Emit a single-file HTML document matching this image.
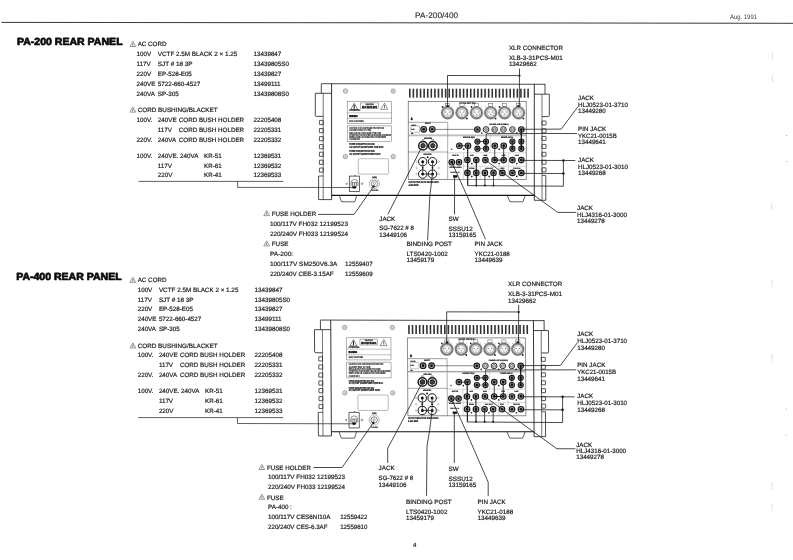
<!DOCTYPE html>
<html lang="en"><head><meta charset="utf-8"><title>PA-200/400 Rear Panel</title>
<style>html,body{margin:0;padding:0;background:#fff;overflow:hidden}svg{display:block}text{white-space:pre;text-rendering:geometricPrecision;stroke:#1c1c1c;stroke-width:0.2px;stroke-linejoin:round}</style>
</head><body>
<svg width="793" height="560" viewBox="0 0 793 560" font-family="'Liberation Sans', sans-serif" font-size="6.25" fill="#1c1c1c" filter="url(#soft)">
<defs><filter id="soft" x="0" y="0" width="100%" height="100%" color-interpolation-filters="sRGB"><feGaussianBlur stdDeviation="0.3"/></filter></defs>
<rect width="793" height="560" fill="#fff"/>
<polyline points="1.5,22.4 400.0,22.8 793.0,23.3" fill="none" stroke="#222" stroke-width="0.9"/>
<text x="415.1" y="17.9" font-size="8.0" textLength="43.0" lengthAdjust="spacingAndGlyphs" style="stroke-width:0.1px">PA-200/400</text>
<text x="730.0" y="18.7" font-size="6.6" textLength="27.0" lengthAdjust="spacingAndGlyphs" fill="#3a3a3a" style="stroke:none">Aug. 1991</text>
<text x="413.0" y="546.9" font-size="6.0">4</text>
<text x="16.9" y="45.1" font-size="10.3" textLength="105.7" lengthAdjust="spacingAndGlyphs" font-weight="bold" fill="#0a0a0a" style="stroke:#0a0a0a;stroke-width:0.7px">PA-200 REAR PANEL</text>
<text x="16.2" y="280.0" font-size="10.3" textLength="105.4" lengthAdjust="spacingAndGlyphs" font-weight="bold" fill="#0a0a0a" style="stroke:#0a0a0a;stroke-width:0.7px">PA-400 REAR PANEL</text>
<g><path d="M130.0,46.5 L135.7,46.5 L132.8,41.4 Z" fill="none" stroke="#444" stroke-width="0.55"/><path d="M132.8,43.3 L132.8,45.7" stroke="#444" stroke-width="0.7"/><text x="137.7" y="46.3">AC CORD</text><text x="136.6" y="55.9">100V</text><text x="157.8" y="55.9" textLength="79.5" lengthAdjust="spacingAndGlyphs">VCTF 2.5M BLACK 2 × 1.25</text><text x="253.5" y="55.9">13439847</text><text x="136.6" y="65.8">117V</text><text x="157.8" y="65.8" textLength="34.6" lengthAdjust="spacingAndGlyphs">SJT # 18 3P</text><text x="253.5" y="65.8">13439805S0</text><text x="136.6" y="75.6">220V</text><text x="157.8" y="75.6">EP-528-E05</text><text x="253.5" y="75.6">13439827</text><text x="136.6" y="85.5">240VE</text><text x="157.8" y="85.5">5722-660-4527</text><text x="253.5" y="85.5">13499111</text><text x="136.6" y="95.5">240VA</text><text x="157.8" y="95.5">SP-305</text><text x="253.5" y="95.5">13439808S0</text><path d="M130.0,112.1 L135.7,112.1 L132.8,107.0 Z" fill="none" stroke="#444" stroke-width="0.55"/><path d="M132.8,108.9 L132.8,111.3" stroke="#444" stroke-width="0.7"/><text x="137.7" y="111.9" textLength="79.9" lengthAdjust="spacingAndGlyphs">CORD BUSHING/BLACKET</text><text x="136.6" y="121.5">100V.</text><text x="157.8" y="121.5">240VE</text><text x="178.8" y="121.5" textLength="65.3" lengthAdjust="spacingAndGlyphs">CORD BUSH HOLDER</text><text x="253.5" y="121.5">22205408</text><text x="157.8" y="131.5">117V</text><text x="178.8" y="131.5" textLength="65.3" lengthAdjust="spacingAndGlyphs">CORD BUSH HOLDER</text><text x="253.5" y="131.5">22205331</text><text x="136.6" y="141.6">220V.</text><text x="157.8" y="141.6">240VA</text><text x="178.8" y="141.6" textLength="65.3" lengthAdjust="spacingAndGlyphs">CORD BUSH HOLDER</text><text x="253.5" y="141.6">22205332</text><text x="136.6" y="157.5">100V.</text><text x="157.8" y="157.5">240VE.</text><text x="180.0" y="157.5">240VA</text><text x="204.0" y="157.5">KR-51</text><text x="253.5" y="157.5">12369531</text><text x="157.8" y="167.6">117V</text><text x="204.0" y="167.6">KR-61</text><text x="253.5" y="167.6">12369532</text><text x="157.8" y="177.4">220V</text><text x="204.0" y="177.4">KR-41</text><text x="253.5" y="177.4">12369533</text></g>
<polyline points="138.5,181.4 283.4,181.4" fill="none" stroke="#1c1c1c" stroke-width="0.7"/>
<polyline points="237.6,181.4 237.6,187.4 353.0,187.5" fill="none" stroke="#1c1c1c" stroke-width="0.7"/>
<g><polyline points="321.3,83.7 545.0,84.3" fill="none" stroke="#1c1c1c" stroke-width="0.8"/><polyline points="331.6,195.4 534.3,195.4" fill="none" stroke="#111" stroke-width="1.2"/><polyline points="331.6,83.9 331.6,199.6" fill="none" stroke="#1c1c1c" stroke-width="0.9"/><polyline points="534.3,83.9 534.3,200.3" fill="none" stroke="#1c1c1c" stroke-width="0.9"/><polyline points="321.3,83.9 321.3,93.3" fill="none" stroke="#1c1c1c" stroke-width="0.8"/><polyline points="315.3,93.3 331.6,93.3" fill="none" stroke="#1c1c1c" stroke-width="0.8"/><path d="M315.3,93.3 V115.2 Q315.3,116.4 316.5,116.4 H323.2" fill="none" stroke="#1c1c1c" stroke-width="0.8"/><polyline points="323.2,93.3 323.2,199.6" fill="none" stroke="#333" stroke-width="0.7"/><polyline points="318.6,199.6 331.6,199.6" fill="none" stroke="#1c1c1c" stroke-width="0.8"/><polyline points="318.6,176.0 318.6,199.6" fill="none" stroke="#1c1c1c" stroke-width="0.8"/><polyline points="318.6,176.0 323.2,176.0" fill="none" stroke="#1c1c1c" stroke-width="0.7"/><rect x="319.4" y="120.4" width="3.8" height="4.2" fill="none" stroke="#222" stroke-width="0.75" rx="0.2"/><rect x="319.4" y="128.5" width="3.8" height="4.2" fill="none" stroke="#222" stroke-width="0.75" rx="0.2"/><rect x="319.4" y="136.6" width="3.8" height="4.2" fill="none" stroke="#222" stroke-width="0.75" rx="0.2"/><rect x="319.4" y="144.6" width="3.8" height="4.2" fill="none" stroke="#222" stroke-width="0.75" rx="0.2"/><rect x="319.4" y="152.2" width="3.8" height="4.2" fill="none" stroke="#222" stroke-width="0.75" rx="0.2"/><rect x="319.4" y="160.2" width="3.8" height="4.2" fill="none" stroke="#222" stroke-width="0.75" rx="0.2"/><rect x="319.4" y="168.0" width="3.8" height="4.2" fill="none" stroke="#222" stroke-width="0.75" rx="0.2"/><polyline points="545.0,83.9 545.0,94.2" fill="none" stroke="#1c1c1c" stroke-width="0.8"/><polyline points="534.3,94.2 549.3,94.2" fill="none" stroke="#1c1c1c" stroke-width="0.8"/><path d="M549.3,94.2 V115.4 Q549.3,116.6 548.4,116.6 H542" fill="none" stroke="#1c1c1c" stroke-width="0.8"/><polyline points="542.0,94.2 542.0,200.3" fill="none" stroke="#333" stroke-width="0.7"/><polyline points="534.3,200.3 545.8,200.3" fill="none" stroke="#1c1c1c" stroke-width="0.8"/><polyline points="545.8,175.4 545.8,200.3" fill="none" stroke="#1c1c1c" stroke-width="0.8"/><polyline points="542.0,175.4 545.8,175.4" fill="none" stroke="#1c1c1c" stroke-width="0.7"/><rect x="542.0" y="121.0" width="4.0" height="4.0" fill="none" stroke="#222" stroke-width="0.75" rx="0.2"/><rect x="542.0" y="128.8" width="4.0" height="4.0" fill="none" stroke="#222" stroke-width="0.75" rx="0.2"/><rect x="542.0" y="136.4" width="4.0" height="4.0" fill="none" stroke="#222" stroke-width="0.75" rx="0.2"/><rect x="542.0" y="144.4" width="4.0" height="4.0" fill="none" stroke="#222" stroke-width="0.75" rx="0.2"/><rect x="542.0" y="152.3" width="4.0" height="4.0" fill="none" stroke="#222" stroke-width="0.75" rx="0.2"/><rect x="542.0" y="160.2" width="4.0" height="4.0" fill="none" stroke="#222" stroke-width="0.75" rx="0.2"/><rect x="542.0" y="167.8" width="4.0" height="4.0" fill="none" stroke="#222" stroke-width="0.75" rx="0.2"/><polyline points="339.3,195.4 341.5,201.8 354.8,201.8 356.7,195.4" fill="none" stroke="#1c1c1c" stroke-width="0.7"/><polyline points="507.1,195.4 510.0,201.8 522.9,201.8 525.4,195.4" fill="none" stroke="#1c1c1c" stroke-width="0.7"/><circle cx="345.5" cy="91.1" r="2.2" fill="none" stroke="#444" stroke-width="0.5"/><circle cx="345.5" cy="91.1" r="0.9" fill="none" stroke="#555" stroke-width="0.4"/><circle cx="393.2" cy="91.1" r="2.2" fill="none" stroke="#444" stroke-width="0.5"/><circle cx="393.2" cy="91.1" r="0.9" fill="none" stroke="#555" stroke-width="0.4"/><circle cx="345.3" cy="156.6" r="2.2" fill="none" stroke="#444" stroke-width="0.5"/><circle cx="345.3" cy="156.6" r="0.9" fill="none" stroke="#555" stroke-width="0.4"/><circle cx="393.2" cy="156.6" r="2.2" fill="none" stroke="#444" stroke-width="0.5"/><circle cx="393.2" cy="156.6" r="0.9" fill="none" stroke="#555" stroke-width="0.4"/><rect x="347.2" y="101.2" width="44.5" height="22.3" fill="none" stroke="#555" stroke-width="0.45"/><polyline points="347.2,112.8 391.7,112.8" fill="none" stroke="#666" stroke-width="0.4"/><polyline points="347.2,118.4 391.7,118.4" fill="none" stroke="#666" stroke-width="0.4"/><path d="M350.6,109.6 L357.8,109.6 L354.2,103.3 Z" fill="none" stroke="#2a2a2a" stroke-width="0.6"/><path d="M354.2,104.8 V108.9" stroke="#111" stroke-width="1.0"/><path d="M380.6,109.3 L387.8,109.3 L384.7,103.1 Z" fill="none" stroke="#444" stroke-width="0.55"/><path d="M384.5,105.0 V108.3" stroke="#333" stroke-width="0.7"/><rect x="360.7" y="102.9" width="17.6" height="5.8" fill="none" stroke="#555" stroke-width="0.45"/><text x="369.5" y="104.9" font-size="2.0" textLength="8.0" lengthAdjust="spacingAndGlyphs" font-weight="bold" fill="#333" text-anchor="middle">CAUTION</text><text x="369.5" y="107.9" font-size="2.9" textLength="15.2" lengthAdjust="spacingAndGlyphs" font-weight="bold" fill="#000" text-anchor="middle" style="stroke-width:0.35px;stroke:#000">RISK OF ELECTRIC SHOCK</text><text x="349.3" y="111.2" font-size="2.3" textLength="11.0" lengthAdjust="spacingAndGlyphs" font-weight="bold" fill="#111">ATTENTION:</text><text x="349.3" y="116.7" font-size="2.8" textLength="8.4" lengthAdjust="spacingAndGlyphs" font-weight="bold" fill="#000" style="stroke-width:0.3px;stroke:#000">WARNING</text><text x="349.3" y="121.9" font-size="2.5" textLength="14.5" lengthAdjust="spacingAndGlyphs" fill="#222">FCC CAUTION</text><rect x="347.2" y="125.9" width="44.5" height="15.6" fill="none" stroke="#555" stroke-width="0.45"/><text x="349.3" y="129.0" font-size="2.9" textLength="34.6" lengthAdjust="spacingAndGlyphs" font-weight="bold" fill="#111" style="stroke-width:0.1px;stroke:#222">CAUTION: FOR CONTINUED PROTECTION</text><text x="349.3" y="131.2" font-size="2.9" textLength="22.0" lengthAdjust="spacingAndGlyphs" font-weight="bold" fill="#111" style="stroke-width:0.1px;stroke:#222">AGAINST RISK OF FIRE,</text><text x="349.3" y="133.5" font-size="2.9" textLength="32.0" lengthAdjust="spacingAndGlyphs" font-weight="bold" fill="#111" style="stroke-width:0.1px;stroke:#222">REPLACE ONLY WITH SAME TYPE FUSE.</text><text x="349.3" y="135.8" font-size="2.9" textLength="41.6" lengthAdjust="spacingAndGlyphs" font-weight="bold" fill="#111" style="stroke-width:0.1px;stroke:#222">ATTENTION: POUR EVITER LES RISQUES D'INCENDIE</text><text x="349.3" y="138.0" font-size="2.9" textLength="36.6" lengthAdjust="spacingAndGlyphs" font-weight="bold" fill="#111" style="stroke-width:0.1px;stroke:#222">REMPLACER LE FUSIBLE PAR UN DE MEME</text><text x="349.3" y="140.2" font-size="2.9" textLength="11.0" lengthAdjust="spacingAndGlyphs" font-weight="bold" fill="#111" style="stroke-width:0.1px;stroke:#222">CALIBRE 250V.</text><text x="349.3" y="145.3" font-size="2.8" textLength="25.5" lengthAdjust="spacingAndGlyphs" font-weight="bold" fill="#222">POWER CONSUMPTION 120V 60Hz</text><text x="349.3" y="147.7" font-size="2.8" textLength="34.5" lengthAdjust="spacingAndGlyphs" font-weight="bold" fill="#222">AC OUTLET UNSWITCHED 100W MAX.</text><text x="349.3" y="152.3" font-size="2.8" textLength="25.5" lengthAdjust="spacingAndGlyphs" font-weight="bold" fill="#222">POWER CONSUMPTION 220V 50Hz</text><text x="349.3" y="154.7" font-size="2.8" textLength="31.0" lengthAdjust="spacingAndGlyphs" font-weight="bold" fill="#222">AC OUTLET UNSWITCHED 100W</text><rect x="358.3" y="158.7" width="30.3" height="15.4" fill="none" stroke="#666" stroke-width="0.45" rx="1.2"/><rect x="349.3" y="176.1" width="10.3" height="15.5" fill="none" stroke="#222" stroke-width="0.7"/><path d="M351.0,186.0 V183.0 A3.5,3.5 0 0 1 358.0,183.0 V186.0" fill="none" stroke="#333" stroke-width="0.55"/><rect x="352.2" y="182.6" width="4.6" height="3.8" fill="#ddd" stroke="#333" stroke-width="0.5"/><polyline points="354.5,182.6 354.5,186.4" fill="none" stroke="#333" stroke-width="0.5"/><path d="M352.4,186.4 h3.8 v1.5 q-1.9,1.4 -3.8,0 z" fill="#0a0a0a"/><circle cx="346.6" cy="183.7" r="0.8" fill="none" stroke="#222" stroke-width="0.45"/><circle cx="362.2" cy="183.6" r="0.9" fill="none" stroke="#222" stroke-width="0.45"/><text x="355.0" y="175.7" font-size="1.8" fill="#222" text-anchor="middle">▲</text><circle cx="374.5" cy="183.6" r="5.1" fill="none" stroke="#777" stroke-width="0.55"/><circle cx="374.5" cy="183.6" r="3.2" fill="none" stroke="#333" stroke-width="0.6"/><circle cx="374.5" cy="183.4" r="1.1" fill="none" stroke="#444" stroke-width="0.45"/><text x="374.6" y="177.6" font-size="2.2" textLength="4.6" lengthAdjust="spacingAndGlyphs" font-weight="bold" fill="#111" text-anchor="middle">FUSE</text><text x="374.8" y="191.3" font-size="1.9" textLength="7.0" lengthAdjust="spacingAndGlyphs" font-weight="bold" fill="#444" text-anchor="middle">T6.3A 250V</text><rect x="409.00" y="88.7" width="1.6" height="9.0" fill="#333"/><rect x="412.58" y="88.7" width="1.6" height="9.0" fill="#333"/><rect x="416.17" y="88.7" width="1.6" height="9.0" fill="#333"/><rect x="419.75" y="88.7" width="1.6" height="9.0" fill="#333"/><rect x="423.34" y="88.7" width="1.6" height="9.0" fill="#333"/><rect x="426.93" y="88.7" width="1.6" height="9.0" fill="#333"/><rect x="430.51" y="88.7" width="1.6" height="9.0" fill="#333"/><rect x="434.10" y="88.7" width="1.6" height="9.0" fill="#333"/><rect x="437.68" y="88.7" width="1.6" height="9.0" fill="#333"/><rect x="441.26" y="88.7" width="1.6" height="9.0" fill="#333"/><rect x="444.85" y="88.7" width="1.6" height="9.0" fill="#333"/><rect x="448.44" y="88.7" width="1.6" height="9.0" fill="#333"/><rect x="452.02" y="88.7" width="1.6" height="9.0" fill="#333"/><rect x="455.61" y="88.7" width="1.6" height="9.0" fill="#333"/><rect x="459.19" y="88.7" width="1.6" height="9.0" fill="#333"/><rect x="462.77" y="88.7" width="1.6" height="9.0" fill="#333"/><rect x="466.36" y="88.7" width="1.6" height="9.0" fill="#333"/><rect x="469.94" y="88.7" width="1.6" height="9.0" fill="#333"/><rect x="473.53" y="88.7" width="1.6" height="9.0" fill="#333"/><rect x="477.12" y="88.7" width="1.6" height="9.0" fill="#333"/><rect x="480.70" y="88.7" width="1.6" height="9.0" fill="#333"/><rect x="484.28" y="88.7" width="1.6" height="9.0" fill="#333"/><rect x="487.87" y="88.7" width="1.6" height="9.0" fill="#333"/><rect x="491.45" y="88.7" width="1.6" height="9.0" fill="#333"/><rect x="495.04" y="88.7" width="1.6" height="9.0" fill="#333"/><rect x="498.62" y="88.7" width="1.6" height="9.0" fill="#333"/><rect x="502.21" y="88.7" width="1.6" height="9.0" fill="#333"/><rect x="505.80" y="88.7" width="1.6" height="9.0" fill="#333"/><rect x="509.38" y="88.7" width="1.6" height="9.0" fill="#333"/><rect x="512.97" y="88.7" width="1.6" height="9.0" fill="#333"/><rect x="516.55" y="88.7" width="1.6" height="9.0" fill="#333"/><rect x="520.13" y="88.7" width="1.6" height="9.0" fill="#333"/><rect x="523.72" y="88.7" width="1.6" height="9.0" fill="#333"/><rect x="527.30" y="88.7" width="1.6" height="9.0" fill="#333"/><rect x="408.2" y="101.5" width="118.0" height="77.9" fill="none" stroke="#444" stroke-width="0.6"/><polyline points="408.2,122.3 447.7,122.3" fill="none" stroke="#444" stroke-width="0.5"/><polyline points="447.7,122.3 447.7,179.4" fill="none" stroke="#555" stroke-width="0.5"/><polyline points="408.2,135.1 526.2,135.1" fill="none" stroke="#999" stroke-width="0.9"/><polyline points="408.2,136.0 526.2,136.0" fill="none" stroke="#999" stroke-width="0.4"/><polyline points="408.2,152.0 447.7,152.0" fill="none" stroke="#555" stroke-width="0.5"/><polyline points="447.7,152.8 526.2,152.8" fill="none" stroke="#999" stroke-width="0.4"/><polyline points="447.7,166.2 526.2,166.2" fill="none" stroke="#999" stroke-width="0.4"/><polyline points="463.5,152.8 463.5,179.4" fill="none" stroke="#999" stroke-width="0.4"/><polyline points="490.2,134.9 490.2,152.8" fill="none" stroke="#999" stroke-width="0.4"/><polyline points="480.3,166.2 480.3,179.4" fill="none" stroke="#999" stroke-width="0.4"/><polyline points="499.0,166.2 499.0,179.4" fill="none" stroke="#999" stroke-width="0.4"/><polyline points="508.4,152.8 508.4,179.4" fill="none" stroke="#999" stroke-width="0.4"/><text x="467.6" y="103.9" font-size="2.3" textLength="16.8" lengthAdjust="spacingAndGlyphs" font-weight="bold" fill="#111" text-anchor="middle">CHANNEL INPUT (BAL)</text><rect x="445.5" y="103.4" width="4.2" height="3.2" fill="#fff" stroke="#444" stroke-width="0.45"/><circle cx="447.6" cy="112.8" r="5.45" fill="#fff" stroke="#808080" stroke-width="1.9"/><circle cx="447.6" cy="112.8" r="6.4" fill="none" stroke="#444" stroke-width="0.35"/><circle cx="447.6" cy="112.8" r="3.7" fill="#fafafa" stroke="#666" stroke-width="0.45"/><rect x="445.35" y="111.55" width="1.1" height="1.1" fill="#777"/><rect x="448.75" y="111.55" width="1.1" height="1.1" fill="#777"/><rect x="447.05" y="113.85" width="1.1" height="1.1" fill="#777"/><circle cx="442.6" cy="107.0" r="0.9" fill="#222"/><circle cx="452.6" cy="106.6" r="0.4" fill="#555"/><rect x="459.9" y="103.4" width="4.2" height="3.2" fill="#fff" stroke="#444" stroke-width="0.45"/><circle cx="462.0" cy="112.8" r="5.45" fill="#fff" stroke="#808080" stroke-width="1.9"/><circle cx="462.0" cy="112.8" r="6.4" fill="none" stroke="#444" stroke-width="0.35"/><circle cx="462.0" cy="112.8" r="3.7" fill="#fafafa" stroke="#666" stroke-width="0.45"/><rect x="459.75" y="111.55" width="1.1" height="1.1" fill="#777"/><rect x="463.15" y="111.55" width="1.1" height="1.1" fill="#777"/><rect x="461.45" y="113.85" width="1.1" height="1.1" fill="#777"/><circle cx="457.0" cy="107.0" r="0.45" fill="#555"/><circle cx="466.9" cy="118.6" r="0.95" fill="#222"/><circle cx="467.0" cy="106.6" r="0.4" fill="#555"/><rect x="474.4" y="103.4" width="4.2" height="3.2" fill="#fff" stroke="#444" stroke-width="0.45"/><circle cx="476.5" cy="112.8" r="5.45" fill="#fff" stroke="#808080" stroke-width="1.9"/><circle cx="476.5" cy="112.8" r="6.4" fill="none" stroke="#444" stroke-width="0.35"/><circle cx="476.5" cy="112.8" r="3.7" fill="#fafafa" stroke="#666" stroke-width="0.45"/><rect x="474.25" y="111.55" width="1.1" height="1.1" fill="#777"/><rect x="477.65" y="111.55" width="1.1" height="1.1" fill="#777"/><rect x="475.95" y="113.85" width="1.1" height="1.1" fill="#777"/><circle cx="471.5" cy="107.0" r="0.9" fill="#222"/><circle cx="481.5" cy="106.6" r="0.4" fill="#555"/><rect x="488.6" y="103.4" width="4.2" height="3.2" fill="#fff" stroke="#444" stroke-width="0.45"/><circle cx="490.7" cy="112.8" r="5.45" fill="#fff" stroke="#808080" stroke-width="1.9"/><circle cx="490.7" cy="112.8" r="6.4" fill="none" stroke="#444" stroke-width="0.35"/><circle cx="490.7" cy="112.8" r="3.7" fill="#fafafa" stroke="#666" stroke-width="0.45"/><rect x="488.45" y="111.55" width="1.1" height="1.1" fill="#777"/><rect x="491.85" y="111.55" width="1.1" height="1.1" fill="#777"/><rect x="490.15" y="113.85" width="1.1" height="1.1" fill="#777"/><circle cx="485.7" cy="107.0" r="0.45" fill="#555"/><circle cx="495.6" cy="118.6" r="0.95" fill="#222"/><circle cx="495.7" cy="106.6" r="0.4" fill="#555"/><rect x="502.5" y="103.4" width="4.2" height="3.2" fill="#fff" stroke="#444" stroke-width="0.45"/><circle cx="504.6" cy="112.8" r="5.45" fill="#fff" stroke="#808080" stroke-width="1.9"/><circle cx="504.6" cy="112.8" r="6.4" fill="none" stroke="#444" stroke-width="0.35"/><circle cx="504.6" cy="112.8" r="3.7" fill="#fafafa" stroke="#666" stroke-width="0.45"/><rect x="502.35" y="111.55" width="1.1" height="1.1" fill="#777"/><rect x="505.75" y="111.55" width="1.1" height="1.1" fill="#777"/><rect x="504.05" y="113.85" width="1.1" height="1.1" fill="#777"/><circle cx="499.6" cy="107.0" r="0.9" fill="#222"/><circle cx="509.6" cy="106.6" r="0.4" fill="#555"/><rect x="516.4" y="103.4" width="4.2" height="3.2" fill="#fff" stroke="#444" stroke-width="0.45"/><circle cx="518.5" cy="112.8" r="5.45" fill="#fff" stroke="#808080" stroke-width="1.9"/><circle cx="518.5" cy="112.8" r="6.4" fill="none" stroke="#444" stroke-width="0.35"/><circle cx="518.5" cy="112.8" r="3.7" fill="#fafafa" stroke="#666" stroke-width="0.45"/><rect x="516.25" y="111.55" width="1.1" height="1.1" fill="#777"/><rect x="519.65" y="111.55" width="1.1" height="1.1" fill="#777"/><rect x="517.95" y="113.85" width="1.1" height="1.1" fill="#777"/><circle cx="513.5" cy="107.0" r="0.45" fill="#555"/><circle cx="523.4" cy="118.6" r="0.95" fill="#222"/><circle cx="523.5" cy="106.6" r="0.4" fill="#555"/><rect x="446.8" y="105.2" width="2.0" height="1.6" fill="#111" stroke="#111" stroke-width="0.3"/><rect x="517.6" y="105.2" width="2.0" height="1.6" fill="#111" stroke="#111" stroke-width="0.3"/><text x="410.4" y="120.2" font-size="3.6" font-weight="bold" fill="#222">⏚</text><text x="427.8" y="124.4" font-size="1.9" font-weight="bold" fill="#222" text-anchor="middle">INPUT</text><rect x="410.7" y="126.0" width="8.8" height="6.4" fill="none" stroke="#666" stroke-width="0.4" rx="0.6"/><text x="410.9" y="125.6" font-size="1.8" fill="#444">LEVEL</text><text x="411.2" y="130.0" font-size="1.8" fill="#444">0dB</text><text x="410.9" y="134.2" font-size="1.8" fill="#444">dB</text><circle cx="423.7" cy="129.3" r="2.8499999999999996" fill="#b0b0b0" stroke="#1a1a1a" stroke-width="1.15"/><circle cx="423.7" cy="129.3" r="1.35" fill="#111" stroke="#111" stroke-width="0.1"/><circle cx="432.2" cy="129.3" r="2.8499999999999996" fill="#b0b0b0" stroke="#1a1a1a" stroke-width="1.15"/><circle cx="432.2" cy="129.3" r="1.35" fill="#111" stroke="#111" stroke-width="0.1"/><text x="428.0" y="138.6" font-size="1.9" textLength="8.0" lengthAdjust="spacingAndGlyphs" font-weight="bold" fill="#222" text-anchor="middle">SPEAKERS</text><circle cx="423.0" cy="145.7" r="4.3" fill="#fff" stroke="#1a1a1a" stroke-width="1.5"/><circle cx="423.0" cy="145.7" r="2.2" fill="#444" stroke="#222" stroke-width="1.0"/><polyline points="421.6,139.8 424.4,139.8" fill="none" stroke="#222" stroke-width="0.6"/><circle cx="432.8" cy="145.7" r="4.3" fill="#fff" stroke="#1a1a1a" stroke-width="1.5"/><circle cx="432.8" cy="145.7" r="2.2" fill="#444" stroke="#222" stroke-width="1.0"/><polyline points="431.4,139.8 434.2,139.8" fill="none" stroke="#222" stroke-width="0.6"/><text x="427.6" y="154.6" font-size="1.9" textLength="8.0" lengthAdjust="spacingAndGlyphs" font-weight="bold" fill="#222" text-anchor="middle">SPEAKERS</text><circle cx="422.7" cy="161.7" r="4.2" fill="#fff" stroke="#1a1a1a" stroke-width="1.0"/><circle cx="422.7" cy="161.7" r="1.5" fill="#111"/><circle cx="422.7" cy="174.1" r="4.2" fill="#fff" stroke="#1a1a1a" stroke-width="1.0"/><circle cx="422.7" cy="174.1" r="1.5" fill="#111"/><polyline points="422.7,161.7 422.7,174.1" fill="none" stroke="#222" stroke-width="0.7"/><circle cx="422.7" cy="167.8" r="0.9" fill="#111"/><circle cx="432.5" cy="161.7" r="4.2" fill="#fff" stroke="#1a1a1a" stroke-width="1.0"/><circle cx="432.5" cy="161.7" r="1.5" fill="#111"/><circle cx="432.5" cy="174.1" r="4.2" fill="#fff" stroke="#1a1a1a" stroke-width="1.0"/><circle cx="432.5" cy="174.1" r="1.5" fill="#111"/><polyline points="432.5,161.7 432.5,174.1" fill="none" stroke="#222" stroke-width="0.7"/><circle cx="432.5" cy="167.8" r="0.9" fill="#111"/><polyline points="422.7,174.1 432.5,174.1" fill="none" stroke="#222" stroke-width="0.8"/><circle cx="427.6" cy="157.2" r="1.0" fill="#222"/><circle cx="416.6" cy="161.7" r="0.8" fill="none" stroke="#666" stroke-width="0.35"/><circle cx="416.6" cy="168.0" r="0.8" fill="none" stroke="#666" stroke-width="0.35"/><circle cx="416.6" cy="174.1" r="0.8" fill="none" stroke="#666" stroke-width="0.35"/><circle cx="438.6" cy="161.7" r="0.8" fill="none" stroke="#666" stroke-width="0.35"/><circle cx="438.6" cy="168.0" r="0.8" fill="none" stroke="#666" stroke-width="0.35"/><circle cx="438.6" cy="174.1" r="0.8" fill="none" stroke="#666" stroke-width="0.35"/><text x="408.4" y="183.1" font-size="2.6" textLength="30.4" lengthAdjust="spacingAndGlyphs" font-weight="bold" fill="#222">OUTPUT/SPEAKER IMPEDANCE</text><text x="408.4" y="185.6" font-size="2.6" textLength="10.0" lengthAdjust="spacingAndGlyphs" font-weight="bold" fill="#222">4-8Ω MIN</text><text x="455.4" y="155.8" font-size="1.9" font-weight="bold" fill="#222" text-anchor="middle">AUX IN</text><circle cx="451.8" cy="162.2" r="2.75" fill="#b0b0b0" stroke="#1a1a1a" stroke-width="1.15"/><circle cx="451.8" cy="162.2" r="1.35" fill="#111" stroke="#111" stroke-width="0.1"/><circle cx="459.0" cy="162.2" r="2.75" fill="#b0b0b0" stroke="#1a1a1a" stroke-width="1.15"/><circle cx="459.0" cy="162.2" r="1.35" fill="#111" stroke="#111" stroke-width="0.1"/><text x="455.4" y="167.9" font-size="1.8" textLength="12.0" lengthAdjust="spacingAndGlyphs" font-weight="bold" fill="#222" text-anchor="middle">STEREO  MONO</text><text x="455.0" y="172.6" font-size="1.7" textLength="9.0" lengthAdjust="spacingAndGlyphs" fill="#555" text-anchor="middle">PHANTOM  ON</text><rect x="453.2" y="175.3" width="4.0" height="2.1" fill="#111" stroke="#111" stroke-width="0.3"/><circle cx="451.5" cy="149.2" r="0.8" fill="#444"/><text x="499.0" y="124.6" font-size="1.9" textLength="19.0" lengthAdjust="spacingAndGlyphs" font-weight="bold" fill="#222" text-anchor="middle">CHANNEL LINE IN (UNBAL)</text><circle cx="477.4" cy="129.5" r="2.75" fill="#b0b0b0" stroke="#1a1a1a" stroke-width="1.15"/><circle cx="477.4" cy="129.5" r="1.35" fill="#111" stroke="#111" stroke-width="0.1"/><circle cx="486.0" cy="129.5" r="2.85" fill="#fff" stroke="#222" stroke-width="0.95"/><circle cx="486.0" cy="129.5" r="1.5000000000000002" fill="#ececec" stroke="#444" stroke-width="0.55"/><polyline points="482.8,129.5 489.2,129.5" fill="none" stroke="#666" stroke-width="0.5"/><circle cx="494.7" cy="129.5" r="2.85" fill="#fff" stroke="#222" stroke-width="0.95"/><circle cx="494.7" cy="129.5" r="1.5000000000000002" fill="#ececec" stroke="#444" stroke-width="0.55"/><polyline points="491.5,129.5 497.9,129.5" fill="none" stroke="#666" stroke-width="0.5"/><circle cx="503.4" cy="129.5" r="2.85" fill="#fff" stroke="#222" stroke-width="0.95"/><circle cx="503.4" cy="129.5" r="1.5000000000000002" fill="#ececec" stroke="#444" stroke-width="0.55"/><polyline points="500.2,129.5 506.6,129.5" fill="none" stroke="#666" stroke-width="0.5"/><circle cx="512.4" cy="129.5" r="2.85" fill="#fff" stroke="#222" stroke-width="0.95"/><circle cx="512.4" cy="129.5" r="1.5000000000000002" fill="#ececec" stroke="#444" stroke-width="0.55"/><polyline points="509.2,129.5 515.6,129.5" fill="none" stroke="#666" stroke-width="0.5"/><circle cx="521.3" cy="129.5" r="2.75" fill="#b0b0b0" stroke="#1a1a1a" stroke-width="1.15"/><circle cx="521.3" cy="129.5" r="1.35" fill="#111" stroke="#111" stroke-width="0.1"/><circle cx="481.8" cy="133.0" r="0.85" fill="#222"/><circle cx="499.2" cy="133.0" r="0.85" fill="#222"/><circle cx="516.8" cy="133.0" r="0.85" fill="#222"/><text x="469.0" y="137.8" font-size="1.9" textLength="12.0" lengthAdjust="spacingAndGlyphs" font-weight="bold" fill="#222" text-anchor="middle">GRAPHIC EQ IN</text><text x="507.0" y="137.8" font-size="1.9" textLength="12.0" lengthAdjust="spacingAndGlyphs" font-weight="bold" fill="#222" text-anchor="middle">POWER AMP IN</text><circle cx="477.4" cy="141.5" r="2.55" fill="#b0b0b0" stroke="#1a1a1a" stroke-width="1.15"/><circle cx="477.4" cy="141.5" r="1.35" fill="#111" stroke="#111" stroke-width="0.1"/><circle cx="477.4" cy="148.7" r="2.55" fill="#b0b0b0" stroke="#1a1a1a" stroke-width="1.15"/><circle cx="477.4" cy="148.7" r="1.35" fill="#111" stroke="#111" stroke-width="0.1"/><circle cx="486.0" cy="141.5" r="2.55" fill="#b0b0b0" stroke="#1a1a1a" stroke-width="1.15"/><circle cx="486.0" cy="141.5" r="1.35" fill="#111" stroke="#111" stroke-width="0.1"/><circle cx="486.0" cy="148.7" r="2.55" fill="#b0b0b0" stroke="#1a1a1a" stroke-width="1.15"/><circle cx="486.0" cy="148.7" r="1.35" fill="#111" stroke="#111" stroke-width="0.1"/><circle cx="512.4" cy="141.5" r="2.55" fill="#b0b0b0" stroke="#1a1a1a" stroke-width="1.15"/><circle cx="512.4" cy="141.5" r="1.35" fill="#111" stroke="#111" stroke-width="0.1"/><circle cx="512.4" cy="148.7" r="2.55" fill="#b0b0b0" stroke="#1a1a1a" stroke-width="1.15"/><circle cx="512.4" cy="148.7" r="1.35" fill="#111" stroke="#111" stroke-width="0.1"/><circle cx="521.3" cy="141.5" r="2.55" fill="#b0b0b0" stroke="#1a1a1a" stroke-width="1.15"/><circle cx="521.3" cy="141.5" r="1.35" fill="#111" stroke="#111" stroke-width="0.1"/><circle cx="521.3" cy="148.7" r="2.55" fill="#b0b0b0" stroke="#1a1a1a" stroke-width="1.15"/><circle cx="521.3" cy="148.7" r="1.35" fill="#111" stroke="#111" stroke-width="0.1"/><polyline points="477.4,141.5 486.0,141.5" fill="none" stroke="#222" stroke-width="0.8"/><polyline points="477.4,148.7 486.0,148.7" fill="none" stroke="#333" stroke-width="0.6"/><polyline points="512.4,141.5 512.4,148.7" fill="none" stroke="#222" stroke-width="0.8"/><polyline points="521.3,129.5 521.3,148.7" fill="none" stroke="#111" stroke-width="1.2"/><circle cx="521.3" cy="134.0" r="0.9" fill="#111"/><polyline points="486.2,133.8 486.2,141.5" fill="none" stroke="#222" stroke-width="0.8"/><circle cx="459.4" cy="145.7" r="2.75" fill="#b0b0b0" stroke="#1a1a1a" stroke-width="1.15"/><circle cx="459.4" cy="145.7" r="1.35" fill="#111" stroke="#111" stroke-width="0.1"/><circle cx="468.0" cy="145.7" r="2.75" fill="#b0b0b0" stroke="#1a1a1a" stroke-width="1.15"/><circle cx="468.0" cy="145.7" r="1.35" fill="#111" stroke="#111" stroke-width="0.1"/><circle cx="494.8" cy="145.7" r="2.75" fill="#b0b0b0" stroke="#1a1a1a" stroke-width="1.15"/><circle cx="494.8" cy="145.7" r="1.35" fill="#111" stroke="#111" stroke-width="0.1"/><circle cx="503.7" cy="145.7" r="2.75" fill="#b0b0b0" stroke="#1a1a1a" stroke-width="1.15"/><circle cx="503.7" cy="145.7" r="1.35" fill="#111" stroke="#111" stroke-width="0.1"/><polyline points="459.4,145.7 468.0,145.7" fill="none" stroke="#222" stroke-width="0.8"/><circle cx="463.8" cy="149.2" r="0.85" fill="#222"/><circle cx="499.2" cy="149.2" r="0.85" fill="#222"/><circle cx="467.4" cy="160.1" r="2.75" fill="#b0b0b0" stroke="#1a1a1a" stroke-width="1.15"/><circle cx="467.4" cy="160.1" r="1.35" fill="#111" stroke="#111" stroke-width="0.1"/><circle cx="476.3" cy="160.1" r="2.75" fill="#b0b0b0" stroke="#1a1a1a" stroke-width="1.15"/><circle cx="476.3" cy="160.1" r="1.35" fill="#111" stroke="#111" stroke-width="0.1"/><circle cx="485.4" cy="160.1" r="2.75" fill="#b0b0b0" stroke="#1a1a1a" stroke-width="1.15"/><circle cx="485.4" cy="160.1" r="1.35" fill="#111" stroke="#111" stroke-width="0.1"/><circle cx="494.6" cy="160.1" r="2.75" fill="#b0b0b0" stroke="#1a1a1a" stroke-width="1.15"/><circle cx="494.6" cy="160.1" r="1.35" fill="#111" stroke="#111" stroke-width="0.1"/><circle cx="503.7" cy="160.1" r="2.75" fill="#b0b0b0" stroke="#1a1a1a" stroke-width="1.15"/><circle cx="503.7" cy="160.1" r="1.35" fill="#111" stroke="#111" stroke-width="0.1"/><circle cx="512.4" cy="160.1" r="2.75" fill="#b0b0b0" stroke="#1a1a1a" stroke-width="1.15"/><circle cx="512.4" cy="160.1" r="1.35" fill="#111" stroke="#111" stroke-width="0.1"/><circle cx="521.3" cy="160.1" r="2.75" fill="#b0b0b0" stroke="#1a1a1a" stroke-width="1.15"/><circle cx="521.3" cy="160.1" r="1.35" fill="#111" stroke="#111" stroke-width="0.1"/><circle cx="471.8" cy="163.6" r="0.85" fill="#222"/><circle cx="499.2" cy="163.6" r="0.85" fill="#222"/><circle cx="516.8" cy="163.6" r="0.85" fill="#222"/><circle cx="467.4" cy="172.9" r="2.75" fill="#b0b0b0" stroke="#1a1a1a" stroke-width="1.15"/><circle cx="467.4" cy="172.9" r="1.35" fill="#111" stroke="#111" stroke-width="0.1"/><circle cx="476.3" cy="172.9" r="2.75" fill="#b0b0b0" stroke="#1a1a1a" stroke-width="1.15"/><circle cx="476.3" cy="172.9" r="1.35" fill="#111" stroke="#111" stroke-width="0.1"/><circle cx="484.9" cy="172.9" r="2.75" fill="#b0b0b0" stroke="#1a1a1a" stroke-width="1.15"/><circle cx="484.9" cy="172.9" r="1.35" fill="#111" stroke="#111" stroke-width="0.1"/><circle cx="493.5" cy="172.9" r="2.75" fill="#b0b0b0" stroke="#1a1a1a" stroke-width="1.15"/><circle cx="493.5" cy="172.9" r="1.35" fill="#111" stroke="#111" stroke-width="0.1"/><circle cx="502.4" cy="172.9" r="2.75" fill="#b0b0b0" stroke="#1a1a1a" stroke-width="1.15"/><circle cx="502.4" cy="172.9" r="1.35" fill="#111" stroke="#111" stroke-width="0.1"/><circle cx="512.4" cy="172.9" r="2.75" fill="#b0b0b0" stroke="#1a1a1a" stroke-width="1.15"/><circle cx="512.4" cy="172.9" r="1.35" fill="#111" stroke="#111" stroke-width="0.1"/><circle cx="521.3" cy="172.9" r="2.75" fill="#b0b0b0" stroke="#1a1a1a" stroke-width="1.15"/><circle cx="521.3" cy="172.9" r="1.35" fill="#111" stroke="#111" stroke-width="0.1"/><circle cx="471.8" cy="176.4" r="0.85" fill="#222"/><circle cx="489.2" cy="176.4" r="0.85" fill="#222"/><circle cx="516.8" cy="176.4" r="0.85" fill="#222"/><text x="471.8" y="168.6" font-size="1.8" font-weight="bold" fill="#333" text-anchor="middle">SEND</text><text x="489.2" y="168.6" font-size="1.8" font-weight="bold" fill="#333" text-anchor="middle">AUX OUT</text><text x="502.4" y="168.6" font-size="1.8" font-weight="bold" fill="#333" text-anchor="middle">REC</text><text x="516.8" y="168.6" font-size="1.8" font-weight="bold" fill="#333" text-anchor="middle">TAPE IN</text><text x="471.8" y="155.6" font-size="1.8" font-weight="bold" fill="#333" text-anchor="middle">AUX</text><text x="485.4" y="155.6" font-size="1.8" font-weight="bold" fill="#333" text-anchor="middle">SUB</text><text x="503.7" y="155.6" font-size="1.8" font-weight="bold" fill="#333" text-anchor="middle">PRE</text><text x="516.8" y="155.6" font-size="1.8" font-weight="bold" fill="#333" text-anchor="middle">LINE</text><polyline points="467.7,145.7 467.7,185.5" fill="none" stroke="#111" stroke-width="1.1"/><polyline points="476.3,160.1 476.3,185.5" fill="none" stroke="#111" stroke-width="1.0"/><polyline points="503.7,145.7 503.7,160.1" fill="none" stroke="#222" stroke-width="0.9"/><polyline points="494.8,145.7 494.7,160.1" fill="none" stroke="#222" stroke-width="0.8"/><polyline points="494.6,160.1 503.7,160.1" fill="none" stroke="#111" stroke-width="1.0"/><polyline points="486.0,141.5 486.0,148.7" fill="none" stroke="#111" stroke-width="1.0"/><polyline points="484.9,172.9 484.9,185.5" fill="none" stroke="#222" stroke-width="0.8"/><polyline points="493.5,172.9 493.5,185.5" fill="none" stroke="#222" stroke-width="0.8"/><circle cx="476.3" cy="185.5" r="1.0" fill="#111"/><circle cx="484.9" cy="185.5" r="1.0" fill="#111"/><circle cx="493.5" cy="185.5" r="1.0" fill="#111"/></g>
<g><text x="508.9" y="49.5" textLength="54.1" lengthAdjust="spacingAndGlyphs">XLR CONNECTOR</text><text x="508.9" y="59.7" textLength="53.8" lengthAdjust="spacingAndGlyphs">XLB-3-31PCS-M01</text><text x="508.9" y="66.4" textLength="27.8" lengthAdjust="spacingAndGlyphs">13429662</text><polyline points="519.5,68.5 519.3,105.4" fill="none" stroke="#1c1c1c" stroke-width="0.8"/><polyline points="447.5,105.6 447.5,75.5 519.5,75.6" fill="none" stroke="#1c1c1c" stroke-width="0.8"/><circle cx="519.5" cy="75.7" r="1.1" fill="#1c1c1c"/><text x="578.0" y="99.5">JACK</text><text x="578.0" y="106.9" textLength="49.9" lengthAdjust="spacingAndGlyphs">HLJ0523-01-3710</text><text x="578.0" y="113.3" textLength="27.8" lengthAdjust="spacingAndGlyphs">13449280</text><polyline points="435.6,129.4 474.0,129.4" fill="none" stroke="#333" stroke-width="0.6"/><polyline points="521.3,129.3 561.2,129.1 578.0,106.6" fill="none" stroke="#1c1c1c" stroke-width="0.8"/><text x="578.0" y="130.5">PIN JACK</text><text x="578.0" y="138.0" textLength="38.8" lengthAdjust="spacingAndGlyphs">YKC21-0015B</text><text x="578.0" y="144.4" textLength="27.8" lengthAdjust="spacingAndGlyphs">13449641</text><polyline points="486.2,133.6 577.0,133.5" fill="none" stroke="#1c1c1c" stroke-width="0.8"/><text x="578.0" y="161.9">JACK</text><text x="578.0" y="169.1" textLength="49.9" lengthAdjust="spacingAndGlyphs">HLJ0523-01-3010</text><text x="578.0" y="175.3" textLength="27.8" lengthAdjust="spacingAndGlyphs">13449268</text><polyline points="521.3,160.4 575.3,160.5" fill="none" stroke="#1c1c1c" stroke-width="0.8"/><polyline points="521.3,173.4 563.4,173.5" fill="none" stroke="#1c1c1c" stroke-width="0.8"/><polyline points="563.4,160.5 563.4,186.2 467.7,185.6" fill="none" stroke="#1c1c1c" stroke-width="0.8"/><circle cx="563.4" cy="160.5" r="1.25" fill="#1c1c1c"/><circle cx="563.4" cy="173.5" r="1.25" fill="#1c1c1c"/><text x="577.0" y="210.4">JACK</text><text x="577.0" y="216.9" textLength="49.9" lengthAdjust="spacingAndGlyphs">HLJ4316-01-3000</text><text x="577.0" y="223.0" textLength="27.8" lengthAdjust="spacingAndGlyphs">13449278</text><polyline points="485.5,160.2 557.7,212.4 576.2,212.4" fill="none" stroke="#1c1c1c" stroke-width="0.8"/><text x="379.3" y="220.8">JACK</text><text x="379.3" y="230.3" textLength="34.5" lengthAdjust="spacingAndGlyphs">SG-7622 # 8</text><text x="379.3" y="237.4" textLength="27.8" lengthAdjust="spacingAndGlyphs">13449106</text><polyline points="422.0,146.5 387.9,214.3" fill="none" stroke="#1c1c1c" stroke-width="0.8"/><text x="406.5" y="246.3" textLength="45.4" lengthAdjust="spacingAndGlyphs">BINDING POST</text><text x="406.5" y="255.8" textLength="41.3" lengthAdjust="spacingAndGlyphs">LTS0420-1002</text><text x="406.5" y="262.4" textLength="27.8" lengthAdjust="spacingAndGlyphs">13459179</text><polyline points="432.5,174.1 429.9,195.0 427.6,240.4" fill="none" stroke="#1c1c1c" stroke-width="0.8"/><text x="448.5" y="220.8">SW</text><text x="448.5" y="230.6" textLength="24.3" lengthAdjust="spacingAndGlyphs">SSSU12</text><text x="448.5" y="237.4" textLength="27.8" lengthAdjust="spacingAndGlyphs">13159165</text><polyline points="454.6,176.4 454.5,214.3" fill="none" stroke="#1c1c1c" stroke-width="0.8"/><text x="474.6" y="246.3">PIN JACK</text><text x="474.6" y="255.8" textLength="35.2" lengthAdjust="spacingAndGlyphs">YKC21-0188</text><text x="474.6" y="262.4" textLength="27.8" lengthAdjust="spacingAndGlyphs">13449639</text><polyline points="451.7,162.1 466.7,195.0 485.5,239.3" fill="none" stroke="#1c1c1c" stroke-width="0.8"/><path d="M263.8,215.6 L269.5,215.6 L266.7,210.5 Z" fill="none" stroke="#444" stroke-width="0.55"/><path d="M266.7,212.4 L266.7,214.8" stroke="#444" stroke-width="0.7"/><text x="271.8" y="215.5" textLength="44.4" lengthAdjust="spacingAndGlyphs">FUSE HOLDER</text><polyline points="318.1,214.4 354.0,214.4 373.6,186.4" fill="none" stroke="#1c1c1c" stroke-width="0.8"/><circle cx="373.6" cy="186.4" r="1.2" fill="#1c1c1c"/><text x="269.9" y="225.5" textLength="78.1" lengthAdjust="spacingAndGlyphs">100/117V FH032 12199523</text><text x="269.9" y="235.6" textLength="78.1" lengthAdjust="spacingAndGlyphs">220/240V FH033 12199524</text><path d="M263.8,245.9 L269.5,245.9 L266.7,240.8 Z" fill="none" stroke="#444" stroke-width="0.55"/><path d="M266.7,242.7 L266.7,245.1" stroke="#444" stroke-width="0.7"/><text x="271.8" y="245.8">FUSE</text><text x="269.9" y="255.8" textLength="23.3" lengthAdjust="spacingAndGlyphs">PA-200:</text><text x="269.9" y="265.8" textLength="67.5" lengthAdjust="spacingAndGlyphs">100/117V SM250V6.3A</text><text x="345.1" y="265.8" textLength="27.6" lengthAdjust="spacingAndGlyphs">12559407</text><text x="269.9" y="275.8" textLength="63.8" lengthAdjust="spacingAndGlyphs">220/240V CEE-3.15AF</text><text x="345.1" y="275.8" textLength="27.6" lengthAdjust="spacingAndGlyphs">12559609</text></g>
<g transform="translate(1.1,235.9)"><path d="M128.9,46.5 L134.6,46.5 L131.8,41.4 Z" fill="none" stroke="#444" stroke-width="0.55"/><path d="M131.8,43.3 L131.8,45.7" stroke="#444" stroke-width="0.7"/><text x="136.6" y="46.3">AC CORD</text><text x="136.6" y="55.9">100V</text><text x="157.8" y="55.9" textLength="79.5" lengthAdjust="spacingAndGlyphs">VCTF 2.5M BLACK 2 × 1.25</text><text x="253.5" y="55.9">13439847</text><text x="136.6" y="65.8">117V</text><text x="157.8" y="65.8" textLength="34.6" lengthAdjust="spacingAndGlyphs">SJT # 18 3P</text><text x="253.5" y="65.8">13439805S0</text><text x="136.6" y="75.6">220V</text><text x="157.8" y="75.6">EP-528-E05</text><text x="253.5" y="75.6">13439827</text><text x="136.6" y="85.5">240VE</text><text x="157.8" y="85.5">5722-660-4527</text><text x="253.5" y="85.5">13499111</text><text x="136.6" y="95.5">240VA</text><text x="157.8" y="95.5">SP-305</text><text x="253.5" y="95.5">13439808S0</text><path d="M128.9,112.1 L134.6,112.1 L131.8,107.0 Z" fill="none" stroke="#444" stroke-width="0.55"/><path d="M131.8,108.9 L131.8,111.3" stroke="#444" stroke-width="0.7"/><text x="136.6" y="111.9" textLength="79.9" lengthAdjust="spacingAndGlyphs">CORD BUSHING/BLACKET</text><text x="136.6" y="121.5">100V.</text><text x="157.8" y="121.5">240VE</text><text x="178.8" y="121.5" textLength="65.3" lengthAdjust="spacingAndGlyphs">CORD BUSH HOLDER</text><text x="253.5" y="121.5">22205408</text><text x="157.8" y="131.5">117V</text><text x="178.8" y="131.5" textLength="65.3" lengthAdjust="spacingAndGlyphs">CORD BUSH HOLDER</text><text x="253.5" y="131.5">22205331</text><text x="136.6" y="141.6">220V.</text><text x="157.8" y="141.6">240VA</text><text x="178.8" y="141.6" textLength="65.3" lengthAdjust="spacingAndGlyphs">CORD BUSH HOLDER</text><text x="253.5" y="141.6">22205332</text><text x="136.6" y="157.5">100V.</text><text x="157.8" y="157.5">240VE.</text><text x="180.0" y="157.5">240VA</text><text x="204.0" y="157.5">KR-51</text><text x="253.5" y="157.5">12369531</text><text x="157.8" y="167.6">117V</text><text x="204.0" y="167.6">KR-61</text><text x="253.5" y="167.6">12369532</text><text x="157.8" y="177.4">220V</text><text x="204.0" y="177.4">KR-41</text><text x="253.5" y="177.4">12369533</text></g>
<polyline points="138.0,417.6 283.2,417.6" fill="none" stroke="#1c1c1c" stroke-width="0.7"/>
<polyline points="237.4,417.6 237.4,423.5 352.0,423.8" fill="none" stroke="#1c1c1c" stroke-width="0.7"/>
<g transform="matrix(1,0,0.006,1,-1.4,236.35)"><polyline points="321.3,83.7 545.0,84.3" fill="none" stroke="#1c1c1c" stroke-width="0.8"/><polyline points="331.6,195.4 534.3,195.4" fill="none" stroke="#111" stroke-width="1.2"/><polyline points="331.6,83.9 331.6,199.6" fill="none" stroke="#1c1c1c" stroke-width="0.9"/><polyline points="534.3,83.9 534.3,200.3" fill="none" stroke="#1c1c1c" stroke-width="0.9"/><polyline points="321.3,83.9 321.3,93.3" fill="none" stroke="#1c1c1c" stroke-width="0.8"/><polyline points="315.3,93.3 331.6,93.3" fill="none" stroke="#1c1c1c" stroke-width="0.8"/><path d="M315.3,93.3 V115.2 Q315.3,116.4 316.5,116.4 H323.2" fill="none" stroke="#1c1c1c" stroke-width="0.8"/><polyline points="323.2,93.3 323.2,199.6" fill="none" stroke="#333" stroke-width="0.7"/><polyline points="318.6,199.6 331.6,199.6" fill="none" stroke="#1c1c1c" stroke-width="0.8"/><polyline points="318.6,176.0 318.6,199.6" fill="none" stroke="#1c1c1c" stroke-width="0.8"/><polyline points="318.6,176.0 323.2,176.0" fill="none" stroke="#1c1c1c" stroke-width="0.7"/><rect x="319.4" y="120.4" width="3.8" height="4.2" fill="none" stroke="#222" stroke-width="0.75" rx="0.2"/><rect x="319.4" y="128.5" width="3.8" height="4.2" fill="none" stroke="#222" stroke-width="0.75" rx="0.2"/><rect x="319.4" y="136.6" width="3.8" height="4.2" fill="none" stroke="#222" stroke-width="0.75" rx="0.2"/><rect x="319.4" y="144.6" width="3.8" height="4.2" fill="none" stroke="#222" stroke-width="0.75" rx="0.2"/><rect x="319.4" y="152.2" width="3.8" height="4.2" fill="none" stroke="#222" stroke-width="0.75" rx="0.2"/><rect x="319.4" y="160.2" width="3.8" height="4.2" fill="none" stroke="#222" stroke-width="0.75" rx="0.2"/><rect x="319.4" y="168.0" width="3.8" height="4.2" fill="none" stroke="#222" stroke-width="0.75" rx="0.2"/><polyline points="545.0,83.9 545.0,94.2" fill="none" stroke="#1c1c1c" stroke-width="0.8"/><polyline points="534.3,94.2 549.3,94.2" fill="none" stroke="#1c1c1c" stroke-width="0.8"/><path d="M549.3,94.2 V115.4 Q549.3,116.6 548.4,116.6 H542" fill="none" stroke="#1c1c1c" stroke-width="0.8"/><polyline points="542.0,94.2 542.0,200.3" fill="none" stroke="#333" stroke-width="0.7"/><polyline points="534.3,200.3 545.8,200.3" fill="none" stroke="#1c1c1c" stroke-width="0.8"/><polyline points="545.8,175.4 545.8,200.3" fill="none" stroke="#1c1c1c" stroke-width="0.8"/><polyline points="542.0,175.4 545.8,175.4" fill="none" stroke="#1c1c1c" stroke-width="0.7"/><rect x="542.0" y="121.0" width="4.0" height="4.0" fill="none" stroke="#222" stroke-width="0.75" rx="0.2"/><rect x="542.0" y="128.8" width="4.0" height="4.0" fill="none" stroke="#222" stroke-width="0.75" rx="0.2"/><rect x="542.0" y="136.4" width="4.0" height="4.0" fill="none" stroke="#222" stroke-width="0.75" rx="0.2"/><rect x="542.0" y="144.4" width="4.0" height="4.0" fill="none" stroke="#222" stroke-width="0.75" rx="0.2"/><rect x="542.0" y="152.3" width="4.0" height="4.0" fill="none" stroke="#222" stroke-width="0.75" rx="0.2"/><rect x="542.0" y="160.2" width="4.0" height="4.0" fill="none" stroke="#222" stroke-width="0.75" rx="0.2"/><rect x="542.0" y="167.8" width="4.0" height="4.0" fill="none" stroke="#222" stroke-width="0.75" rx="0.2"/><polyline points="339.3,195.4 341.5,201.8 354.8,201.8 356.7,195.4" fill="none" stroke="#1c1c1c" stroke-width="0.7"/><polyline points="507.1,195.4 510.0,201.8 522.9,201.8 525.4,195.4" fill="none" stroke="#1c1c1c" stroke-width="0.7"/><circle cx="345.5" cy="91.1" r="2.2" fill="none" stroke="#444" stroke-width="0.5"/><circle cx="345.5" cy="91.1" r="0.9" fill="none" stroke="#555" stroke-width="0.4"/><circle cx="393.2" cy="91.1" r="2.2" fill="none" stroke="#444" stroke-width="0.5"/><circle cx="393.2" cy="91.1" r="0.9" fill="none" stroke="#555" stroke-width="0.4"/><circle cx="345.3" cy="156.6" r="2.2" fill="none" stroke="#444" stroke-width="0.5"/><circle cx="345.3" cy="156.6" r="0.9" fill="none" stroke="#555" stroke-width="0.4"/><circle cx="393.2" cy="156.6" r="2.2" fill="none" stroke="#444" stroke-width="0.5"/><circle cx="393.2" cy="156.6" r="0.9" fill="none" stroke="#555" stroke-width="0.4"/><rect x="347.2" y="101.2" width="44.5" height="22.3" fill="none" stroke="#555" stroke-width="0.45"/><polyline points="347.2,112.8 391.7,112.8" fill="none" stroke="#666" stroke-width="0.4"/><polyline points="347.2,118.4 391.7,118.4" fill="none" stroke="#666" stroke-width="0.4"/><path d="M350.6,109.6 L357.8,109.6 L354.2,103.3 Z" fill="none" stroke="#2a2a2a" stroke-width="0.6"/><path d="M354.2,104.8 V108.9" stroke="#111" stroke-width="1.0"/><path d="M380.6,109.3 L387.8,109.3 L384.7,103.1 Z" fill="none" stroke="#444" stroke-width="0.55"/><path d="M384.5,105.0 V108.3" stroke="#333" stroke-width="0.7"/><rect x="360.7" y="102.9" width="17.6" height="5.8" fill="none" stroke="#555" stroke-width="0.45"/><text x="369.5" y="104.9" font-size="2.0" textLength="8.0" lengthAdjust="spacingAndGlyphs" font-weight="bold" fill="#333" text-anchor="middle">CAUTION</text><text x="369.5" y="107.9" font-size="2.9" textLength="15.2" lengthAdjust="spacingAndGlyphs" font-weight="bold" fill="#000" text-anchor="middle" style="stroke-width:0.35px;stroke:#000">RISK OF ELECTRIC SHOCK</text><text x="349.3" y="111.2" font-size="2.3" textLength="11.0" lengthAdjust="spacingAndGlyphs" font-weight="bold" fill="#111">ATTENTION:</text><text x="349.3" y="116.7" font-size="2.8" textLength="8.4" lengthAdjust="spacingAndGlyphs" font-weight="bold" fill="#000" style="stroke-width:0.3px;stroke:#000">WARNING</text><text x="349.3" y="121.9" font-size="2.5" textLength="14.5" lengthAdjust="spacingAndGlyphs" fill="#222">FCC CAUTION</text><rect x="347.2" y="125.9" width="44.5" height="15.6" fill="none" stroke="#555" stroke-width="0.45"/><text x="349.3" y="129.0" font-size="2.9" textLength="34.6" lengthAdjust="spacingAndGlyphs" font-weight="bold" fill="#111" style="stroke-width:0.1px;stroke:#222">CAUTION: FOR CONTINUED PROTECTION</text><text x="349.3" y="131.2" font-size="2.9" textLength="22.0" lengthAdjust="spacingAndGlyphs" font-weight="bold" fill="#111" style="stroke-width:0.1px;stroke:#222">AGAINST RISK OF FIRE,</text><text x="349.3" y="133.5" font-size="2.9" textLength="32.0" lengthAdjust="spacingAndGlyphs" font-weight="bold" fill="#111" style="stroke-width:0.1px;stroke:#222">REPLACE ONLY WITH SAME TYPE FUSE.</text><text x="349.3" y="135.8" font-size="2.9" textLength="41.6" lengthAdjust="spacingAndGlyphs" font-weight="bold" fill="#111" style="stroke-width:0.1px;stroke:#222">ATTENTION: POUR EVITER LES RISQUES D'INCENDIE</text><text x="349.3" y="138.0" font-size="2.9" textLength="36.6" lengthAdjust="spacingAndGlyphs" font-weight="bold" fill="#111" style="stroke-width:0.1px;stroke:#222">REMPLACER LE FUSIBLE PAR UN DE MEME</text><text x="349.3" y="140.2" font-size="2.9" textLength="11.0" lengthAdjust="spacingAndGlyphs" font-weight="bold" fill="#111" style="stroke-width:0.1px;stroke:#222">CALIBRE 250V.</text><text x="349.3" y="145.3" font-size="2.8" textLength="25.5" lengthAdjust="spacingAndGlyphs" font-weight="bold" fill="#222">POWER CONSUMPTION 120V 60Hz</text><text x="349.3" y="147.7" font-size="2.8" textLength="34.5" lengthAdjust="spacingAndGlyphs" font-weight="bold" fill="#222">AC OUTLET UNSWITCHED 100W MAX.</text><text x="349.3" y="152.3" font-size="2.8" textLength="25.5" lengthAdjust="spacingAndGlyphs" font-weight="bold" fill="#222">POWER CONSUMPTION 220V 50Hz</text><text x="349.3" y="154.7" font-size="2.8" textLength="31.0" lengthAdjust="spacingAndGlyphs" font-weight="bold" fill="#222">AC OUTLET UNSWITCHED 100W</text><rect x="358.3" y="158.7" width="30.3" height="15.4" fill="none" stroke="#666" stroke-width="0.45" rx="1.2"/><rect x="349.3" y="176.1" width="10.3" height="15.5" fill="none" stroke="#222" stroke-width="0.7"/><path d="M351.0,186.0 V183.0 A3.5,3.5 0 0 1 358.0,183.0 V186.0" fill="none" stroke="#333" stroke-width="0.55"/><rect x="352.2" y="182.6" width="4.6" height="3.8" fill="#ddd" stroke="#333" stroke-width="0.5"/><polyline points="354.5,182.6 354.5,186.4" fill="none" stroke="#333" stroke-width="0.5"/><path d="M352.4,186.4 h3.8 v1.5 q-1.9,1.4 -3.8,0 z" fill="#0a0a0a"/><circle cx="346.6" cy="183.7" r="0.8" fill="none" stroke="#222" stroke-width="0.45"/><circle cx="362.2" cy="183.6" r="0.9" fill="none" stroke="#222" stroke-width="0.45"/><text x="355.0" y="175.7" font-size="1.8" fill="#222" text-anchor="middle">▲</text><circle cx="374.5" cy="183.6" r="5.1" fill="none" stroke="#777" stroke-width="0.55"/><circle cx="374.5" cy="183.6" r="3.2" fill="none" stroke="#333" stroke-width="0.6"/><circle cx="374.5" cy="183.4" r="1.1" fill="none" stroke="#444" stroke-width="0.45"/><text x="374.6" y="177.6" font-size="2.2" textLength="4.6" lengthAdjust="spacingAndGlyphs" font-weight="bold" fill="#111" text-anchor="middle">FUSE</text><text x="374.8" y="191.3" font-size="1.9" textLength="7.0" lengthAdjust="spacingAndGlyphs" font-weight="bold" fill="#444" text-anchor="middle">T6.3A 250V</text><rect x="409.00" y="88.7" width="1.6" height="9.0" fill="#333"/><rect x="412.58" y="88.7" width="1.6" height="9.0" fill="#333"/><rect x="416.17" y="88.7" width="1.6" height="9.0" fill="#333"/><rect x="419.75" y="88.7" width="1.6" height="9.0" fill="#333"/><rect x="423.34" y="88.7" width="1.6" height="9.0" fill="#333"/><rect x="426.93" y="88.7" width="1.6" height="9.0" fill="#333"/><rect x="430.51" y="88.7" width="1.6" height="9.0" fill="#333"/><rect x="434.10" y="88.7" width="1.6" height="9.0" fill="#333"/><rect x="437.68" y="88.7" width="1.6" height="9.0" fill="#333"/><rect x="441.26" y="88.7" width="1.6" height="9.0" fill="#333"/><rect x="444.85" y="88.7" width="1.6" height="9.0" fill="#333"/><rect x="448.44" y="88.7" width="1.6" height="9.0" fill="#333"/><rect x="452.02" y="88.7" width="1.6" height="9.0" fill="#333"/><rect x="455.61" y="88.7" width="1.6" height="9.0" fill="#333"/><rect x="459.19" y="88.7" width="1.6" height="9.0" fill="#333"/><rect x="462.77" y="88.7" width="1.6" height="9.0" fill="#333"/><rect x="466.36" y="88.7" width="1.6" height="9.0" fill="#333"/><rect x="469.94" y="88.7" width="1.6" height="9.0" fill="#333"/><rect x="473.53" y="88.7" width="1.6" height="9.0" fill="#333"/><rect x="477.12" y="88.7" width="1.6" height="9.0" fill="#333"/><rect x="480.70" y="88.7" width="1.6" height="9.0" fill="#333"/><rect x="484.28" y="88.7" width="1.6" height="9.0" fill="#333"/><rect x="487.87" y="88.7" width="1.6" height="9.0" fill="#333"/><rect x="491.45" y="88.7" width="1.6" height="9.0" fill="#333"/><rect x="495.04" y="88.7" width="1.6" height="9.0" fill="#333"/><rect x="498.62" y="88.7" width="1.6" height="9.0" fill="#333"/><rect x="502.21" y="88.7" width="1.6" height="9.0" fill="#333"/><rect x="505.80" y="88.7" width="1.6" height="9.0" fill="#333"/><rect x="509.38" y="88.7" width="1.6" height="9.0" fill="#333"/><rect x="512.97" y="88.7" width="1.6" height="9.0" fill="#333"/><rect x="516.55" y="88.7" width="1.6" height="9.0" fill="#333"/><rect x="520.13" y="88.7" width="1.6" height="9.0" fill="#333"/><rect x="523.72" y="88.7" width="1.6" height="9.0" fill="#333"/><rect x="527.30" y="88.7" width="1.6" height="9.0" fill="#333"/><rect x="408.2" y="101.5" width="118.0" height="77.9" fill="none" stroke="#444" stroke-width="0.6"/><polyline points="408.2,122.3 447.7,122.3" fill="none" stroke="#444" stroke-width="0.5"/><polyline points="447.7,122.3 447.7,179.4" fill="none" stroke="#555" stroke-width="0.5"/><polyline points="408.2,135.1 526.2,135.1" fill="none" stroke="#999" stroke-width="0.9"/><polyline points="408.2,136.0 526.2,136.0" fill="none" stroke="#999" stroke-width="0.4"/><polyline points="408.2,152.0 447.7,152.0" fill="none" stroke="#555" stroke-width="0.5"/><polyline points="447.7,152.8 526.2,152.8" fill="none" stroke="#999" stroke-width="0.4"/><polyline points="447.7,166.2 526.2,166.2" fill="none" stroke="#999" stroke-width="0.4"/><polyline points="463.5,152.8 463.5,179.4" fill="none" stroke="#999" stroke-width="0.4"/><polyline points="490.2,134.9 490.2,152.8" fill="none" stroke="#999" stroke-width="0.4"/><polyline points="480.3,166.2 480.3,179.4" fill="none" stroke="#999" stroke-width="0.4"/><polyline points="499.0,166.2 499.0,179.4" fill="none" stroke="#999" stroke-width="0.4"/><polyline points="508.4,152.8 508.4,179.4" fill="none" stroke="#999" stroke-width="0.4"/><text x="467.6" y="103.9" font-size="2.3" textLength="16.8" lengthAdjust="spacingAndGlyphs" font-weight="bold" fill="#111" text-anchor="middle">CHANNEL INPUT (BAL)</text><rect x="445.5" y="103.4" width="4.2" height="3.2" fill="#fff" stroke="#444" stroke-width="0.45"/><circle cx="447.6" cy="112.8" r="5.45" fill="#fff" stroke="#808080" stroke-width="1.9"/><circle cx="447.6" cy="112.8" r="6.4" fill="none" stroke="#444" stroke-width="0.35"/><circle cx="447.6" cy="112.8" r="3.7" fill="#fafafa" stroke="#666" stroke-width="0.45"/><rect x="445.35" y="111.55" width="1.1" height="1.1" fill="#777"/><rect x="448.75" y="111.55" width="1.1" height="1.1" fill="#777"/><rect x="447.05" y="113.85" width="1.1" height="1.1" fill="#777"/><circle cx="442.6" cy="107.0" r="0.9" fill="#222"/><circle cx="452.6" cy="106.6" r="0.4" fill="#555"/><rect x="459.9" y="103.4" width="4.2" height="3.2" fill="#fff" stroke="#444" stroke-width="0.45"/><circle cx="462.0" cy="112.8" r="5.45" fill="#fff" stroke="#808080" stroke-width="1.9"/><circle cx="462.0" cy="112.8" r="6.4" fill="none" stroke="#444" stroke-width="0.35"/><circle cx="462.0" cy="112.8" r="3.7" fill="#fafafa" stroke="#666" stroke-width="0.45"/><rect x="459.75" y="111.55" width="1.1" height="1.1" fill="#777"/><rect x="463.15" y="111.55" width="1.1" height="1.1" fill="#777"/><rect x="461.45" y="113.85" width="1.1" height="1.1" fill="#777"/><circle cx="457.0" cy="107.0" r="0.45" fill="#555"/><circle cx="466.9" cy="118.6" r="0.95" fill="#222"/><circle cx="467.0" cy="106.6" r="0.4" fill="#555"/><rect x="474.4" y="103.4" width="4.2" height="3.2" fill="#fff" stroke="#444" stroke-width="0.45"/><circle cx="476.5" cy="112.8" r="5.45" fill="#fff" stroke="#808080" stroke-width="1.9"/><circle cx="476.5" cy="112.8" r="6.4" fill="none" stroke="#444" stroke-width="0.35"/><circle cx="476.5" cy="112.8" r="3.7" fill="#fafafa" stroke="#666" stroke-width="0.45"/><rect x="474.25" y="111.55" width="1.1" height="1.1" fill="#777"/><rect x="477.65" y="111.55" width="1.1" height="1.1" fill="#777"/><rect x="475.95" y="113.85" width="1.1" height="1.1" fill="#777"/><circle cx="471.5" cy="107.0" r="0.9" fill="#222"/><circle cx="481.5" cy="106.6" r="0.4" fill="#555"/><rect x="488.6" y="103.4" width="4.2" height="3.2" fill="#fff" stroke="#444" stroke-width="0.45"/><circle cx="490.7" cy="112.8" r="5.45" fill="#fff" stroke="#808080" stroke-width="1.9"/><circle cx="490.7" cy="112.8" r="6.4" fill="none" stroke="#444" stroke-width="0.35"/><circle cx="490.7" cy="112.8" r="3.7" fill="#fafafa" stroke="#666" stroke-width="0.45"/><rect x="488.45" y="111.55" width="1.1" height="1.1" fill="#777"/><rect x="491.85" y="111.55" width="1.1" height="1.1" fill="#777"/><rect x="490.15" y="113.85" width="1.1" height="1.1" fill="#777"/><circle cx="485.7" cy="107.0" r="0.45" fill="#555"/><circle cx="495.6" cy="118.6" r="0.95" fill="#222"/><circle cx="495.7" cy="106.6" r="0.4" fill="#555"/><rect x="502.5" y="103.4" width="4.2" height="3.2" fill="#fff" stroke="#444" stroke-width="0.45"/><circle cx="504.6" cy="112.8" r="5.45" fill="#fff" stroke="#808080" stroke-width="1.9"/><circle cx="504.6" cy="112.8" r="6.4" fill="none" stroke="#444" stroke-width="0.35"/><circle cx="504.6" cy="112.8" r="3.7" fill="#fafafa" stroke="#666" stroke-width="0.45"/><rect x="502.35" y="111.55" width="1.1" height="1.1" fill="#777"/><rect x="505.75" y="111.55" width="1.1" height="1.1" fill="#777"/><rect x="504.05" y="113.85" width="1.1" height="1.1" fill="#777"/><circle cx="499.6" cy="107.0" r="0.9" fill="#222"/><circle cx="509.6" cy="106.6" r="0.4" fill="#555"/><rect x="516.4" y="103.4" width="4.2" height="3.2" fill="#fff" stroke="#444" stroke-width="0.45"/><circle cx="518.5" cy="112.8" r="5.45" fill="#fff" stroke="#808080" stroke-width="1.9"/><circle cx="518.5" cy="112.8" r="6.4" fill="none" stroke="#444" stroke-width="0.35"/><circle cx="518.5" cy="112.8" r="3.7" fill="#fafafa" stroke="#666" stroke-width="0.45"/><rect x="516.25" y="111.55" width="1.1" height="1.1" fill="#777"/><rect x="519.65" y="111.55" width="1.1" height="1.1" fill="#777"/><rect x="517.95" y="113.85" width="1.1" height="1.1" fill="#777"/><circle cx="513.5" cy="107.0" r="0.45" fill="#555"/><circle cx="523.4" cy="118.6" r="0.95" fill="#222"/><circle cx="523.5" cy="106.6" r="0.4" fill="#555"/><rect x="446.8" y="105.2" width="2.0" height="1.6" fill="#111" stroke="#111" stroke-width="0.3"/><rect x="517.6" y="105.2" width="2.0" height="1.6" fill="#111" stroke="#111" stroke-width="0.3"/><text x="410.4" y="120.2" font-size="3.6" font-weight="bold" fill="#222">⏚</text><text x="427.8" y="124.4" font-size="1.9" font-weight="bold" fill="#222" text-anchor="middle">INPUT</text><rect x="410.7" y="126.0" width="8.8" height="6.4" fill="none" stroke="#666" stroke-width="0.4" rx="0.6"/><text x="410.9" y="125.6" font-size="1.8" fill="#444">LEVEL</text><text x="411.2" y="130.0" font-size="1.8" fill="#444">0dB</text><text x="410.9" y="134.2" font-size="1.8" fill="#444">dB</text><circle cx="423.7" cy="129.3" r="2.8499999999999996" fill="#b0b0b0" stroke="#1a1a1a" stroke-width="1.15"/><circle cx="423.7" cy="129.3" r="1.35" fill="#111" stroke="#111" stroke-width="0.1"/><circle cx="432.2" cy="129.3" r="2.8499999999999996" fill="#b0b0b0" stroke="#1a1a1a" stroke-width="1.15"/><circle cx="432.2" cy="129.3" r="1.35" fill="#111" stroke="#111" stroke-width="0.1"/><text x="428.0" y="138.6" font-size="1.9" textLength="8.0" lengthAdjust="spacingAndGlyphs" font-weight="bold" fill="#222" text-anchor="middle">SPEAKERS</text><circle cx="423.0" cy="145.7" r="4.3" fill="#fff" stroke="#1a1a1a" stroke-width="1.5"/><circle cx="423.0" cy="145.7" r="2.2" fill="#444" stroke="#222" stroke-width="1.0"/><polyline points="421.6,139.8 424.4,139.8" fill="none" stroke="#222" stroke-width="0.6"/><circle cx="432.8" cy="145.7" r="4.3" fill="#fff" stroke="#1a1a1a" stroke-width="1.5"/><circle cx="432.8" cy="145.7" r="2.2" fill="#444" stroke="#222" stroke-width="1.0"/><polyline points="431.4,139.8 434.2,139.8" fill="none" stroke="#222" stroke-width="0.6"/><text x="427.6" y="154.6" font-size="1.9" textLength="8.0" lengthAdjust="spacingAndGlyphs" font-weight="bold" fill="#222" text-anchor="middle">SPEAKERS</text><circle cx="422.7" cy="161.7" r="4.2" fill="#fff" stroke="#1a1a1a" stroke-width="1.0"/><circle cx="422.7" cy="161.7" r="1.5" fill="#111"/><circle cx="422.7" cy="174.1" r="4.2" fill="#fff" stroke="#1a1a1a" stroke-width="1.0"/><circle cx="422.7" cy="174.1" r="1.5" fill="#111"/><polyline points="422.7,161.7 422.7,174.1" fill="none" stroke="#222" stroke-width="0.7"/><circle cx="422.7" cy="167.8" r="0.9" fill="#111"/><circle cx="432.5" cy="161.7" r="4.2" fill="#fff" stroke="#1a1a1a" stroke-width="1.0"/><circle cx="432.5" cy="161.7" r="1.5" fill="#111"/><circle cx="432.5" cy="174.1" r="4.2" fill="#fff" stroke="#1a1a1a" stroke-width="1.0"/><circle cx="432.5" cy="174.1" r="1.5" fill="#111"/><polyline points="432.5,161.7 432.5,174.1" fill="none" stroke="#222" stroke-width="0.7"/><circle cx="432.5" cy="167.8" r="0.9" fill="#111"/><polyline points="422.7,174.1 432.5,174.1" fill="none" stroke="#222" stroke-width="0.8"/><circle cx="427.6" cy="157.2" r="1.0" fill="#222"/><circle cx="416.6" cy="161.7" r="0.8" fill="none" stroke="#666" stroke-width="0.35"/><circle cx="416.6" cy="168.0" r="0.8" fill="none" stroke="#666" stroke-width="0.35"/><circle cx="416.6" cy="174.1" r="0.8" fill="none" stroke="#666" stroke-width="0.35"/><circle cx="438.6" cy="161.7" r="0.8" fill="none" stroke="#666" stroke-width="0.35"/><circle cx="438.6" cy="168.0" r="0.8" fill="none" stroke="#666" stroke-width="0.35"/><circle cx="438.6" cy="174.1" r="0.8" fill="none" stroke="#666" stroke-width="0.35"/><text x="408.4" y="183.1" font-size="2.6" textLength="30.4" lengthAdjust="spacingAndGlyphs" font-weight="bold" fill="#222">OUTPUT/SPEAKER IMPEDANCE</text><text x="408.4" y="185.6" font-size="2.6" textLength="10.0" lengthAdjust="spacingAndGlyphs" font-weight="bold" fill="#222">4-8Ω MIN</text><text x="455.4" y="155.8" font-size="1.9" font-weight="bold" fill="#222" text-anchor="middle">AUX IN</text><circle cx="451.8" cy="162.2" r="2.75" fill="#b0b0b0" stroke="#1a1a1a" stroke-width="1.15"/><circle cx="451.8" cy="162.2" r="1.35" fill="#111" stroke="#111" stroke-width="0.1"/><circle cx="459.0" cy="162.2" r="2.75" fill="#b0b0b0" stroke="#1a1a1a" stroke-width="1.15"/><circle cx="459.0" cy="162.2" r="1.35" fill="#111" stroke="#111" stroke-width="0.1"/><text x="455.4" y="167.9" font-size="1.8" textLength="12.0" lengthAdjust="spacingAndGlyphs" font-weight="bold" fill="#222" text-anchor="middle">STEREO  MONO</text><text x="455.0" y="172.6" font-size="1.7" textLength="9.0" lengthAdjust="spacingAndGlyphs" fill="#555" text-anchor="middle">PHANTOM  ON</text><rect x="453.2" y="175.3" width="4.0" height="2.1" fill="#111" stroke="#111" stroke-width="0.3"/><circle cx="451.5" cy="149.2" r="0.8" fill="#444"/><text x="499.0" y="124.6" font-size="1.9" textLength="19.0" lengthAdjust="spacingAndGlyphs" font-weight="bold" fill="#222" text-anchor="middle">CHANNEL LINE IN (UNBAL)</text><circle cx="477.4" cy="129.5" r="2.75" fill="#b0b0b0" stroke="#1a1a1a" stroke-width="1.15"/><circle cx="477.4" cy="129.5" r="1.35" fill="#111" stroke="#111" stroke-width="0.1"/><circle cx="486.0" cy="129.5" r="2.85" fill="#fff" stroke="#222" stroke-width="0.95"/><circle cx="486.0" cy="129.5" r="1.5000000000000002" fill="#ececec" stroke="#444" stroke-width="0.55"/><polyline points="482.8,129.5 489.2,129.5" fill="none" stroke="#666" stroke-width="0.5"/><circle cx="494.7" cy="129.5" r="2.85" fill="#fff" stroke="#222" stroke-width="0.95"/><circle cx="494.7" cy="129.5" r="1.5000000000000002" fill="#ececec" stroke="#444" stroke-width="0.55"/><polyline points="491.5,129.5 497.9,129.5" fill="none" stroke="#666" stroke-width="0.5"/><circle cx="503.4" cy="129.5" r="2.85" fill="#fff" stroke="#222" stroke-width="0.95"/><circle cx="503.4" cy="129.5" r="1.5000000000000002" fill="#ececec" stroke="#444" stroke-width="0.55"/><polyline points="500.2,129.5 506.6,129.5" fill="none" stroke="#666" stroke-width="0.5"/><circle cx="512.4" cy="129.5" r="2.85" fill="#fff" stroke="#222" stroke-width="0.95"/><circle cx="512.4" cy="129.5" r="1.5000000000000002" fill="#ececec" stroke="#444" stroke-width="0.55"/><polyline points="509.2,129.5 515.6,129.5" fill="none" stroke="#666" stroke-width="0.5"/><circle cx="521.3" cy="129.5" r="2.75" fill="#b0b0b0" stroke="#1a1a1a" stroke-width="1.15"/><circle cx="521.3" cy="129.5" r="1.35" fill="#111" stroke="#111" stroke-width="0.1"/><circle cx="481.8" cy="133.0" r="0.85" fill="#222"/><circle cx="499.2" cy="133.0" r="0.85" fill="#222"/><circle cx="516.8" cy="133.0" r="0.85" fill="#222"/><text x="469.0" y="137.8" font-size="1.9" textLength="12.0" lengthAdjust="spacingAndGlyphs" font-weight="bold" fill="#222" text-anchor="middle">GRAPHIC EQ IN</text><text x="507.0" y="137.8" font-size="1.9" textLength="12.0" lengthAdjust="spacingAndGlyphs" font-weight="bold" fill="#222" text-anchor="middle">POWER AMP IN</text><circle cx="477.4" cy="141.5" r="2.55" fill="#b0b0b0" stroke="#1a1a1a" stroke-width="1.15"/><circle cx="477.4" cy="141.5" r="1.35" fill="#111" stroke="#111" stroke-width="0.1"/><circle cx="477.4" cy="148.7" r="2.55" fill="#b0b0b0" stroke="#1a1a1a" stroke-width="1.15"/><circle cx="477.4" cy="148.7" r="1.35" fill="#111" stroke="#111" stroke-width="0.1"/><circle cx="486.0" cy="141.5" r="2.55" fill="#b0b0b0" stroke="#1a1a1a" stroke-width="1.15"/><circle cx="486.0" cy="141.5" r="1.35" fill="#111" stroke="#111" stroke-width="0.1"/><circle cx="486.0" cy="148.7" r="2.55" fill="#b0b0b0" stroke="#1a1a1a" stroke-width="1.15"/><circle cx="486.0" cy="148.7" r="1.35" fill="#111" stroke="#111" stroke-width="0.1"/><circle cx="512.4" cy="141.5" r="2.55" fill="#b0b0b0" stroke="#1a1a1a" stroke-width="1.15"/><circle cx="512.4" cy="141.5" r="1.35" fill="#111" stroke="#111" stroke-width="0.1"/><circle cx="512.4" cy="148.7" r="2.55" fill="#b0b0b0" stroke="#1a1a1a" stroke-width="1.15"/><circle cx="512.4" cy="148.7" r="1.35" fill="#111" stroke="#111" stroke-width="0.1"/><circle cx="521.3" cy="141.5" r="2.55" fill="#b0b0b0" stroke="#1a1a1a" stroke-width="1.15"/><circle cx="521.3" cy="141.5" r="1.35" fill="#111" stroke="#111" stroke-width="0.1"/><circle cx="521.3" cy="148.7" r="2.55" fill="#b0b0b0" stroke="#1a1a1a" stroke-width="1.15"/><circle cx="521.3" cy="148.7" r="1.35" fill="#111" stroke="#111" stroke-width="0.1"/><polyline points="477.4,141.5 486.0,141.5" fill="none" stroke="#222" stroke-width="0.8"/><polyline points="477.4,148.7 486.0,148.7" fill="none" stroke="#333" stroke-width="0.6"/><polyline points="512.4,141.5 512.4,148.7" fill="none" stroke="#222" stroke-width="0.8"/><polyline points="521.3,129.5 521.3,148.7" fill="none" stroke="#111" stroke-width="1.2"/><circle cx="521.3" cy="134.0" r="0.9" fill="#111"/><polyline points="486.2,133.8 486.2,141.5" fill="none" stroke="#222" stroke-width="0.8"/><circle cx="459.4" cy="145.7" r="2.75" fill="#b0b0b0" stroke="#1a1a1a" stroke-width="1.15"/><circle cx="459.4" cy="145.7" r="1.35" fill="#111" stroke="#111" stroke-width="0.1"/><circle cx="468.0" cy="145.7" r="2.75" fill="#b0b0b0" stroke="#1a1a1a" stroke-width="1.15"/><circle cx="468.0" cy="145.7" r="1.35" fill="#111" stroke="#111" stroke-width="0.1"/><circle cx="494.8" cy="145.7" r="2.75" fill="#b0b0b0" stroke="#1a1a1a" stroke-width="1.15"/><circle cx="494.8" cy="145.7" r="1.35" fill="#111" stroke="#111" stroke-width="0.1"/><circle cx="503.7" cy="145.7" r="2.75" fill="#b0b0b0" stroke="#1a1a1a" stroke-width="1.15"/><circle cx="503.7" cy="145.7" r="1.35" fill="#111" stroke="#111" stroke-width="0.1"/><polyline points="459.4,145.7 468.0,145.7" fill="none" stroke="#222" stroke-width="0.8"/><circle cx="463.8" cy="149.2" r="0.85" fill="#222"/><circle cx="499.2" cy="149.2" r="0.85" fill="#222"/><circle cx="467.4" cy="160.1" r="2.75" fill="#b0b0b0" stroke="#1a1a1a" stroke-width="1.15"/><circle cx="467.4" cy="160.1" r="1.35" fill="#111" stroke="#111" stroke-width="0.1"/><circle cx="476.3" cy="160.1" r="2.75" fill="#b0b0b0" stroke="#1a1a1a" stroke-width="1.15"/><circle cx="476.3" cy="160.1" r="1.35" fill="#111" stroke="#111" stroke-width="0.1"/><circle cx="485.4" cy="160.1" r="2.75" fill="#b0b0b0" stroke="#1a1a1a" stroke-width="1.15"/><circle cx="485.4" cy="160.1" r="1.35" fill="#111" stroke="#111" stroke-width="0.1"/><circle cx="494.6" cy="160.1" r="2.75" fill="#b0b0b0" stroke="#1a1a1a" stroke-width="1.15"/><circle cx="494.6" cy="160.1" r="1.35" fill="#111" stroke="#111" stroke-width="0.1"/><circle cx="503.7" cy="160.1" r="2.75" fill="#b0b0b0" stroke="#1a1a1a" stroke-width="1.15"/><circle cx="503.7" cy="160.1" r="1.35" fill="#111" stroke="#111" stroke-width="0.1"/><circle cx="512.4" cy="160.1" r="2.75" fill="#b0b0b0" stroke="#1a1a1a" stroke-width="1.15"/><circle cx="512.4" cy="160.1" r="1.35" fill="#111" stroke="#111" stroke-width="0.1"/><circle cx="521.3" cy="160.1" r="2.75" fill="#b0b0b0" stroke="#1a1a1a" stroke-width="1.15"/><circle cx="521.3" cy="160.1" r="1.35" fill="#111" stroke="#111" stroke-width="0.1"/><circle cx="471.8" cy="163.6" r="0.85" fill="#222"/><circle cx="499.2" cy="163.6" r="0.85" fill="#222"/><circle cx="516.8" cy="163.6" r="0.85" fill="#222"/><circle cx="467.4" cy="172.9" r="2.75" fill="#b0b0b0" stroke="#1a1a1a" stroke-width="1.15"/><circle cx="467.4" cy="172.9" r="1.35" fill="#111" stroke="#111" stroke-width="0.1"/><circle cx="476.3" cy="172.9" r="2.75" fill="#b0b0b0" stroke="#1a1a1a" stroke-width="1.15"/><circle cx="476.3" cy="172.9" r="1.35" fill="#111" stroke="#111" stroke-width="0.1"/><circle cx="484.9" cy="172.9" r="2.75" fill="#b0b0b0" stroke="#1a1a1a" stroke-width="1.15"/><circle cx="484.9" cy="172.9" r="1.35" fill="#111" stroke="#111" stroke-width="0.1"/><circle cx="493.5" cy="172.9" r="2.75" fill="#b0b0b0" stroke="#1a1a1a" stroke-width="1.15"/><circle cx="493.5" cy="172.9" r="1.35" fill="#111" stroke="#111" stroke-width="0.1"/><circle cx="502.4" cy="172.9" r="2.75" fill="#b0b0b0" stroke="#1a1a1a" stroke-width="1.15"/><circle cx="502.4" cy="172.9" r="1.35" fill="#111" stroke="#111" stroke-width="0.1"/><circle cx="512.4" cy="172.9" r="2.75" fill="#b0b0b0" stroke="#1a1a1a" stroke-width="1.15"/><circle cx="512.4" cy="172.9" r="1.35" fill="#111" stroke="#111" stroke-width="0.1"/><circle cx="521.3" cy="172.9" r="2.75" fill="#b0b0b0" stroke="#1a1a1a" stroke-width="1.15"/><circle cx="521.3" cy="172.9" r="1.35" fill="#111" stroke="#111" stroke-width="0.1"/><circle cx="471.8" cy="176.4" r="0.85" fill="#222"/><circle cx="489.2" cy="176.4" r="0.85" fill="#222"/><circle cx="516.8" cy="176.4" r="0.85" fill="#222"/><text x="471.8" y="168.6" font-size="1.8" font-weight="bold" fill="#333" text-anchor="middle">SEND</text><text x="489.2" y="168.6" font-size="1.8" font-weight="bold" fill="#333" text-anchor="middle">AUX OUT</text><text x="502.4" y="168.6" font-size="1.8" font-weight="bold" fill="#333" text-anchor="middle">REC</text><text x="516.8" y="168.6" font-size="1.8" font-weight="bold" fill="#333" text-anchor="middle">TAPE IN</text><text x="471.8" y="155.6" font-size="1.8" font-weight="bold" fill="#333" text-anchor="middle">AUX</text><text x="485.4" y="155.6" font-size="1.8" font-weight="bold" fill="#333" text-anchor="middle">SUB</text><text x="503.7" y="155.6" font-size="1.8" font-weight="bold" fill="#333" text-anchor="middle">PRE</text><text x="516.8" y="155.6" font-size="1.8" font-weight="bold" fill="#333" text-anchor="middle">LINE</text><polyline points="467.7,145.7 467.7,185.5" fill="none" stroke="#111" stroke-width="1.1"/><polyline points="476.3,160.1 476.3,185.5" fill="none" stroke="#111" stroke-width="1.0"/><polyline points="503.7,145.7 503.7,160.1" fill="none" stroke="#222" stroke-width="0.9"/><polyline points="494.8,145.7 494.7,160.1" fill="none" stroke="#222" stroke-width="0.8"/><polyline points="494.6,160.1 503.7,160.1" fill="none" stroke="#111" stroke-width="1.0"/><polyline points="486.0,141.5 486.0,148.7" fill="none" stroke="#111" stroke-width="1.0"/><polyline points="484.9,172.9 484.9,185.5" fill="none" stroke="#222" stroke-width="0.8"/><polyline points="493.5,172.9 493.5,185.5" fill="none" stroke="#222" stroke-width="0.8"/><circle cx="476.3" cy="185.5" r="1.0" fill="#111"/><circle cx="484.9" cy="185.5" r="1.0" fill="#111"/><circle cx="493.5" cy="185.5" r="1.0" fill="#111"/></g>
<g transform="translate(-0.8,236.35)"><text x="508.9" y="49.5" textLength="54.1" lengthAdjust="spacingAndGlyphs">XLR CONNECTOR</text><text x="508.9" y="59.7" textLength="53.8" lengthAdjust="spacingAndGlyphs">XLB-3-31PCS-M01</text><text x="508.9" y="66.4" textLength="27.8" lengthAdjust="spacingAndGlyphs">13429662</text><polyline points="519.5,68.5 519.3,105.4" fill="none" stroke="#1c1c1c" stroke-width="0.8"/><polyline points="447.5,105.6 447.5,75.5 519.5,75.6" fill="none" stroke="#1c1c1c" stroke-width="0.8"/><circle cx="519.5" cy="75.7" r="1.1" fill="#1c1c1c"/><text x="578.0" y="99.5">JACK</text><text x="578.0" y="106.9" textLength="49.9" lengthAdjust="spacingAndGlyphs">HLJ0523-01-3710</text><text x="578.0" y="113.3" textLength="27.8" lengthAdjust="spacingAndGlyphs">13449280</text><polyline points="435.6,129.4 474.0,129.4" fill="none" stroke="#333" stroke-width="0.6"/><polyline points="521.3,129.3 561.2,129.1 578.0,106.6" fill="none" stroke="#1c1c1c" stroke-width="0.8"/><text x="578.0" y="130.5">PIN JACK</text><text x="578.0" y="138.0" textLength="38.8" lengthAdjust="spacingAndGlyphs">YKC21-0015B</text><text x="578.0" y="144.4" textLength="27.8" lengthAdjust="spacingAndGlyphs">13449641</text><polyline points="486.2,133.6 577.0,133.5" fill="none" stroke="#1c1c1c" stroke-width="0.8"/><text x="578.0" y="161.9">JACK</text><text x="578.0" y="169.1" textLength="49.9" lengthAdjust="spacingAndGlyphs">HLJ0523-01-3010</text><text x="578.0" y="175.3" textLength="27.8" lengthAdjust="spacingAndGlyphs">13449268</text><polyline points="521.3,160.4 575.3,160.5" fill="none" stroke="#1c1c1c" stroke-width="0.8"/><polyline points="521.3,173.4 563.4,173.5" fill="none" stroke="#1c1c1c" stroke-width="0.8"/><polyline points="563.4,160.5 563.4,186.2 467.7,185.6" fill="none" stroke="#1c1c1c" stroke-width="0.8"/><circle cx="563.4" cy="160.5" r="1.25" fill="#1c1c1c"/><circle cx="563.4" cy="173.5" r="1.25" fill="#1c1c1c"/><text x="577.0" y="210.4">JACK</text><text x="577.0" y="216.9" textLength="49.9" lengthAdjust="spacingAndGlyphs">HLJ4316-01-3000</text><text x="577.0" y="223.0" textLength="27.8" lengthAdjust="spacingAndGlyphs">13449278</text><polyline points="485.5,160.2 557.7,212.4 576.2,212.4" fill="none" stroke="#1c1c1c" stroke-width="0.8"/></g>
<g><text x="378.6" y="470.2">JACK</text><text x="378.6" y="480.4" textLength="34.5" lengthAdjust="spacingAndGlyphs">SG-7622 # 8</text><text x="378.6" y="486.7" textLength="27.8" lengthAdjust="spacingAndGlyphs">13449106</text><polyline points="422.5,382.0 397.5,430.0 387.7,448.2 387.7,462.9" fill="none" stroke="#1c1c1c" stroke-width="0.8"/><text x="406.1" y="503.8" textLength="45.6" lengthAdjust="spacingAndGlyphs">BINDING POST</text><text x="406.1" y="513.8" textLength="41.3" lengthAdjust="spacingAndGlyphs">LTS0420-1002</text><text x="406.1" y="519.7" textLength="27.8" lengthAdjust="spacingAndGlyphs">13459179</text><polyline points="432.1,410.4 429.7,430.0 427.0,446.0 426.5,495.8" fill="none" stroke="#1c1c1c" stroke-width="0.8"/><text x="448.5" y="470.5">SW</text><text x="448.5" y="481.0" textLength="24.3" lengthAdjust="spacingAndGlyphs">SSSU12</text><text x="448.5" y="486.7" textLength="27.8" lengthAdjust="spacingAndGlyphs">13159165</text><polyline points="454.3,412.8 454.3,462.9" fill="none" stroke="#1c1c1c" stroke-width="0.8"/><text x="477.6" y="503.8">PIN JACK</text><text x="477.6" y="513.8" textLength="35.5" lengthAdjust="spacingAndGlyphs">YKC21-0188</text><text x="477.6" y="519.7" textLength="27.8" lengthAdjust="spacingAndGlyphs">13449639</text><polyline points="451.3,398.4 465.5,430.0 488.2,482.2 488.2,495.8" fill="none" stroke="#1c1c1c" stroke-width="0.8"/><path d="M259.0,469.5 L264.7,469.5 L261.9,464.4 Z" fill="none" stroke="#444" stroke-width="0.55"/><path d="M261.9,466.3 L261.9,468.7" stroke="#444" stroke-width="0.7"/><text x="267.0" y="469.7" textLength="43.9" lengthAdjust="spacingAndGlyphs">FUSE HOLDER</text><polyline points="313.4,467.5 342.1,467.5 373.3,422.8" fill="none" stroke="#1c1c1c" stroke-width="0.8"/><circle cx="373.3" cy="422.8" r="1.2" fill="#1c1c1c"/><text x="268.0" y="479.3" textLength="77.1" lengthAdjust="spacingAndGlyphs">100/117V FH032 12199523</text><text x="268.0" y="489.3" textLength="77.1" lengthAdjust="spacingAndGlyphs">220/240V FH033 12199524</text><path d="M259.0,499.3 L264.7,499.3 L261.9,494.2 Z" fill="none" stroke="#444" stroke-width="0.55"/><path d="M261.9,496.1 L261.9,498.5" stroke="#444" stroke-width="0.7"/><text x="267.0" y="499.5">FUSE</text><text x="268.0" y="509.1">PA-400 :</text><text x="268.0" y="519.1" textLength="62.4" lengthAdjust="spacingAndGlyphs">100/117V CES6NI10A</text><text x="340.2" y="519.1" textLength="27.2" lengthAdjust="spacingAndGlyphs">12559422</text><text x="268.0" y="528.8" textLength="59.5" lengthAdjust="spacingAndGlyphs">220/240V CES-6.3AF</text><text x="340.2" y="528.8" textLength="27.2" lengthAdjust="spacingAndGlyphs">12559610</text></g>
<path d="M772.9,52.4 q-1.6,3.6 0,7.2" fill="none" stroke="#c8c8c8" stroke-width="0.6"/>
<path d="M772.9,75.0 q-1.6,3.6 0,7.2" fill="none" stroke="#c8c8c8" stroke-width="0.6"/>
<path d="M772.2,203.1 q-1.6,3.6 0,7.2" fill="none" stroke="#c8c8c8" stroke-width="0.6"/>
<path d="M772.3,279.9 q-1.6,3.6 0,7.2" fill="none" stroke="#c8c8c8" stroke-width="0.6"/>
<path d="M772.3,353.9 q-1.6,3.6 0,7.2" fill="none" stroke="#c8c8c8" stroke-width="0.6"/>
<path d="M772.3,482.4 q-1.6,3.6 0,7.2" fill="none" stroke="#c8c8c8" stroke-width="0.6"/>
<path d="M772.3,503.9 q-1.6,3.6 0,7.2" fill="none" stroke="#c8c8c8" stroke-width="0.6"/>
<circle cx="786.6" cy="135.6" r="0.55" fill="#9a9a9a"/>
<circle cx="787.0" cy="161.6" r="0.55" fill="#9a9a9a"/>
<circle cx="786.0" cy="409.0" r="0.55" fill="#9a9a9a"/>
<circle cx="786.0" cy="435.0" r="0.55" fill="#9a9a9a"/>
</svg>
</body></html>
